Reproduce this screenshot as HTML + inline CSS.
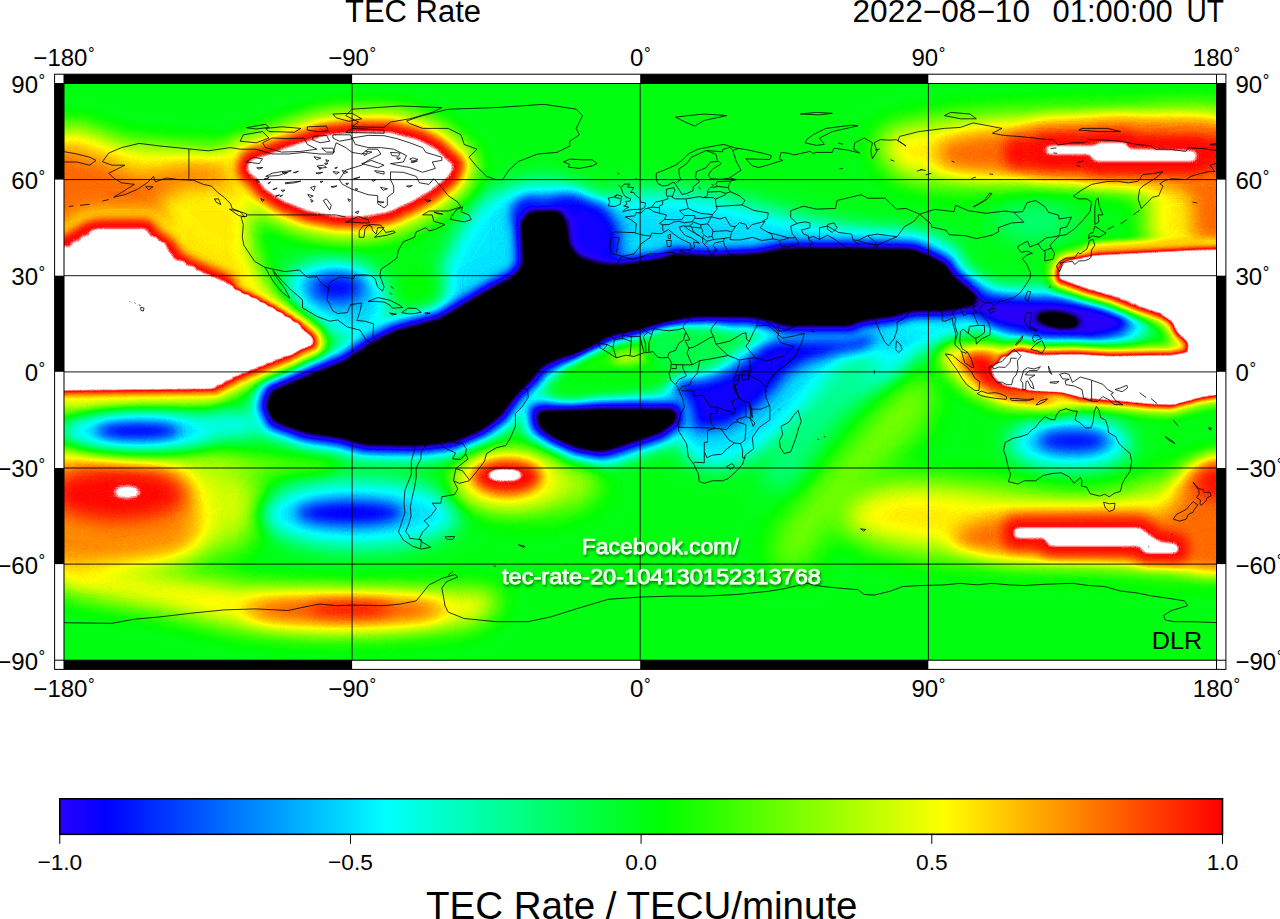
<!DOCTYPE html>
<html lang="en"><head><meta charset="utf-8"><title>TEC Rate</title>
<style>html,body{margin:0;padding:0;background:#fff}svg{display:block}text{font-family:"Liberation Sans",Arial,Helvetica,sans-serif;fill:#000}</style></head><body>
<svg width="1280" height="919" viewBox="0 0 1280 919">
<defs>
<filter id="b2_0" filterUnits="userSpaceOnUse" x="0" y="20" width="1280" height="700" color-interpolation-filters="sRGB"><feGaussianBlur stdDeviation="2"/></filter>
<filter id="b2_5" filterUnits="userSpaceOnUse" x="0" y="20" width="1280" height="700" color-interpolation-filters="sRGB"><feGaussianBlur stdDeviation="2.5"/></filter>
<filter id="b2_6" filterUnits="userSpaceOnUse" x="0" y="20" width="1280" height="700" color-interpolation-filters="sRGB"><feGaussianBlur stdDeviation="2.6"/></filter>
<filter id="b3" filterUnits="userSpaceOnUse" x="0" y="20" width="1280" height="700" color-interpolation-filters="sRGB"><feGaussianBlur stdDeviation="3"/></filter>
<filter id="b3_5" filterUnits="userSpaceOnUse" x="0" y="20" width="1280" height="700" color-interpolation-filters="sRGB"><feGaussianBlur stdDeviation="3.5"/></filter>
<filter id="b4" filterUnits="userSpaceOnUse" x="0" y="20" width="1280" height="700" color-interpolation-filters="sRGB"><feGaussianBlur stdDeviation="4"/></filter>
<filter id="b4_5" filterUnits="userSpaceOnUse" x="0" y="20" width="1280" height="700" color-interpolation-filters="sRGB"><feGaussianBlur stdDeviation="4.5"/></filter>
<filter id="b5" filterUnits="userSpaceOnUse" x="0" y="20" width="1280" height="700" color-interpolation-filters="sRGB"><feGaussianBlur stdDeviation="5"/></filter>
<filter id="b6" filterUnits="userSpaceOnUse" x="0" y="20" width="1280" height="700" color-interpolation-filters="sRGB"><feGaussianBlur stdDeviation="6"/></filter>
<filter id="b7" filterUnits="userSpaceOnUse" x="0" y="20" width="1280" height="700" color-interpolation-filters="sRGB"><feGaussianBlur stdDeviation="7"/></filter>
<filter id="b8" filterUnits="userSpaceOnUse" x="0" y="20" width="1280" height="700" color-interpolation-filters="sRGB"><feGaussianBlur stdDeviation="8"/></filter>
<filter id="b9" filterUnits="userSpaceOnUse" x="0" y="20" width="1280" height="700" color-interpolation-filters="sRGB"><feGaussianBlur stdDeviation="9"/></filter>
<filter id="b10" filterUnits="userSpaceOnUse" x="0" y="20" width="1280" height="700" color-interpolation-filters="sRGB"><feGaussianBlur stdDeviation="10"/></filter>
<filter id="b11" filterUnits="userSpaceOnUse" x="0" y="20" width="1280" height="700" color-interpolation-filters="sRGB"><feGaussianBlur stdDeviation="11"/></filter>
<filter id="b12" filterUnits="userSpaceOnUse" x="0" y="20" width="1280" height="700" color-interpolation-filters="sRGB"><feGaussianBlur stdDeviation="12"/></filter>
<filter id="b13" filterUnits="userSpaceOnUse" x="0" y="20" width="1280" height="700" color-interpolation-filters="sRGB"><feGaussianBlur stdDeviation="13"/></filter>
<filter id="b14" filterUnits="userSpaceOnUse" x="0" y="20" width="1280" height="700" color-interpolation-filters="sRGB"><feGaussianBlur stdDeviation="14"/></filter>
<filter id="b15" filterUnits="userSpaceOnUse" x="0" y="20" width="1280" height="700" color-interpolation-filters="sRGB"><feGaussianBlur stdDeviation="15"/></filter>
<filter id="b16" filterUnits="userSpaceOnUse" x="0" y="20" width="1280" height="700" color-interpolation-filters="sRGB"><feGaussianBlur stdDeviation="16"/></filter>
<filter id="cm" x="0" y="0" width="100%" height="100%" filterUnits="objectBoundingBox" color-interpolation-filters="sRGB"><feComponentTransfer><feFuncR type="table" tableValues="0.000 0.000 0.000 0.000 0.000 0.000 0.000 0.000 0.000 0.000 0.000 0.000 0.000 0.000 0.000 0.000 0.000 0.000 0.000 0.000 0.000 0.000 0.000 0.000 0.000 0.000 0.000 0.000 0.000 0.000 0.000 0.000 0.000 0.000 0.000 0.000 0.000 0.000 0.000 0.000 0.000 0.000 0.000 0.000 0.000 0.000 0.000 0.000 0.000 0.000 0.000 0.000 0.000 0.000 0.000 0.000 0.000 0.000 0.007 0.020 0.033 0.047 0.060 0.073 0.087 0.100 0.113 0.127 0.140 0.153 0.167 0.125 0.083 0.042 0.000 0.000 0.000 0.000 0.000 0.000 0.000 0.000 0.000 0.000 0.000 0.000 0.000 0.000 0.000 0.000 0.000 0.000 0.000 0.000 0.000 0.000 0.000 0.000 0.000 0.000 0.000 0.000 0.000 0.000 0.000 0.000 0.000 0.000 0.000 0.000 0.000 0.000 0.000 0.000 0.000 0.000 0.000 0.000 0.000 0.000 0.000 0.000 0.000 0.042 0.083 0.125 0.167 0.208 0.250 0.292 0.333 0.375 0.417 0.458 0.500 0.542 0.583 0.625 0.667 0.708 0.750 0.792 0.833 0.875 0.917 0.958 1.000 1.000 1.000 1.000 1.000 1.000 1.000 1.000 1.000 1.000 1.000 1.000 1.000 1.000 1.000 1.000 1.000 1.000 1.000 1.000 1.000 1.000 1.000 1.000 1.000 1.000 1.000 1.000 1.000 1.000 1.000 1.000 1.000 1.000 1.000 1.000 1.000 1.000 1.000 1.000 1.000 1.000 1.000 1.000 1.000 1.000 1.000 1.000 1.000 1.000 1.000 1.000 1.000 1.000 1.000 1.000 1.000 1.000 1.000 1.000 1.000 1.000 1.000 1.000 1.000 1.000 1.000 1.000 1.000 1.000 1.000 1.000 1.000 1.000 1.000 1.000 1.000 1.000 1.000 1.000 1.000 1.000 1.000 1.000 1.000 1.000 1.000 1.000 1.000 1.000 1.000 1.000 1.000 1.000 1.000"/><feFuncG type="table" tableValues="0.000 0.000 0.000 0.000 0.000 0.000 0.000 0.000 0.000 0.000 0.000 0.000 0.000 0.000 0.000 0.000 0.000 0.000 0.000 0.000 0.000 0.000 0.000 0.000 0.000 0.000 0.000 0.000 0.000 0.000 0.000 0.000 0.000 0.000 0.000 0.000 0.000 0.000 0.000 0.000 0.000 0.000 0.000 0.000 0.000 0.000 0.000 0.000 0.000 0.000 0.000 0.000 0.000 0.000 0.000 0.000 0.000 0.000 0.000 0.000 0.000 0.000 0.000 0.000 0.000 0.000 0.000 0.000 0.000 0.000 0.000 0.000 0.000 0.000 0.000 0.042 0.083 0.125 0.167 0.208 0.250 0.292 0.333 0.375 0.417 0.458 0.500 0.542 0.583 0.625 0.667 0.708 0.750 0.792 0.833 0.875 0.917 0.958 1.000 1.000 1.000 1.000 1.000 1.000 1.000 1.000 1.000 1.000 1.000 1.000 1.000 1.000 1.000 1.000 1.000 1.000 1.000 1.000 1.000 1.000 1.000 1.000 1.000 1.000 1.000 1.000 1.000 1.000 1.000 1.000 1.000 1.000 1.000 1.000 1.000 1.000 1.000 1.000 1.000 1.000 1.000 1.000 1.000 1.000 1.000 1.000 1.000 0.958 0.917 0.875 0.833 0.792 0.750 0.708 0.667 0.625 0.583 0.542 0.500 0.458 0.417 0.375 0.333 0.292 0.250 0.208 0.167 0.125 0.083 0.042 0.000 0.167 0.333 0.500 0.667 0.833 1.000 1.000 1.000 1.000 1.000 1.000 1.000 1.000 1.000 1.000 1.000 1.000 1.000 1.000 1.000 1.000 1.000 1.000 1.000 1.000 1.000 1.000 1.000 1.000 1.000 1.000 1.000 1.000 1.000 1.000 1.000 1.000 1.000 1.000 1.000 1.000 1.000 1.000 1.000 1.000 1.000 1.000 1.000 1.000 1.000 1.000 1.000 1.000 1.000 1.000 1.000 1.000 1.000 1.000 1.000 1.000 1.000 1.000 1.000 1.000 1.000 1.000 1.000 1.000 1.000"/><feFuncB type="table" tableValues="0.000 0.000 0.000 0.000 0.000 0.000 0.000 0.000 0.000 0.000 0.000 0.000 0.000 0.000 0.000 0.000 0.000 0.000 0.000 0.000 0.000 0.000 0.000 0.000 0.000 0.000 0.000 0.000 0.000 0.000 0.000 0.000 0.000 0.000 0.000 0.000 0.000 0.000 0.000 0.000 0.000 0.000 0.000 0.000 0.000 0.000 0.000 0.000 0.000 0.000 0.000 0.000 0.000 0.000 0.000 0.000 0.000 0.000 0.040 0.120 0.200 0.280 0.360 0.440 0.520 0.600 0.680 0.760 0.840 0.920 1.000 1.000 1.000 1.000 1.000 1.000 1.000 1.000 1.000 1.000 1.000 1.000 1.000 1.000 1.000 1.000 1.000 1.000 1.000 1.000 1.000 1.000 1.000 1.000 1.000 1.000 1.000 1.000 1.000 0.958 0.917 0.875 0.833 0.792 0.750 0.708 0.667 0.625 0.583 0.542 0.500 0.458 0.417 0.375 0.333 0.292 0.250 0.208 0.167 0.125 0.083 0.042 0.000 0.000 0.000 0.000 0.000 0.000 0.000 0.000 0.000 0.000 0.000 0.000 0.000 0.000 0.000 0.000 0.000 0.000 0.000 0.000 0.000 0.000 0.000 0.000 0.000 0.000 0.000 0.000 0.000 0.000 0.000 0.000 0.000 0.000 0.000 0.000 0.000 0.000 0.000 0.000 0.000 0.000 0.000 0.000 0.000 0.000 0.000 0.000 0.000 0.167 0.333 0.500 0.667 0.833 1.000 1.000 1.000 1.000 1.000 1.000 1.000 1.000 1.000 1.000 1.000 1.000 1.000 1.000 1.000 1.000 1.000 1.000 1.000 1.000 1.000 1.000 1.000 1.000 1.000 1.000 1.000 1.000 1.000 1.000 1.000 1.000 1.000 1.000 1.000 1.000 1.000 1.000 1.000 1.000 1.000 1.000 1.000 1.000 1.000 1.000 1.000 1.000 1.000 1.000 1.000 1.000 1.000 1.000 1.000 1.000 1.000 1.000 1.000 1.000 1.000 1.000 1.000 1.000 1.000"/></feComponentTransfer></filter>
<clipPath id="mapclip"><rect x="64" y="83.5" width="1152.5" height="576.7"/></clipPath>
<linearGradient id="cbg" x1="0" x2="1" y1="0" y2="0"><stop offset="0.000" stop-color="#2a00ff"/><stop offset="0.040" stop-color="#0000ff"/><stop offset="0.080" stop-color="#002bff"/><stop offset="0.120" stop-color="#0055ff"/><stop offset="0.160" stop-color="#0080ff"/><stop offset="0.200" stop-color="#00aaff"/><stop offset="0.240" stop-color="#00d4ff"/><stop offset="0.280" stop-color="#00ffff"/><stop offset="0.320" stop-color="#00ffd4"/><stop offset="0.360" stop-color="#00ffaa"/><stop offset="0.400" stop-color="#00ff80"/><stop offset="0.440" stop-color="#00ff55"/><stop offset="0.480" stop-color="#00ff2a"/><stop offset="0.520" stop-color="#00ff00"/><stop offset="0.560" stop-color="#2aff00"/><stop offset="0.600" stop-color="#55ff00"/><stop offset="0.640" stop-color="#80ff00"/><stop offset="0.680" stop-color="#aaff00"/><stop offset="0.720" stop-color="#d4ff00"/><stop offset="0.760" stop-color="#ffff00"/><stop offset="0.800" stop-color="#ffd500"/><stop offset="0.840" stop-color="#ffaa00"/><stop offset="0.880" stop-color="#ff8000"/><stop offset="0.920" stop-color="#ff5500"/><stop offset="0.960" stop-color="#ff2a00"/><stop offset="1.000" stop-color="#ff0000"/></linearGradient>
<filter id="ts" x="-10%" y="-30%" width="120%" height="170%"><feGaussianBlur in="SourceAlpha" stdDeviation="1.6"/><feOffset dx="0.5" dy="1.5"/><feComponentTransfer><feFuncA type="linear" slope="0.55"/></feComponentTransfer><feMerge><feMergeNode/><feMergeNode in="SourceGraphic"/></feMerge></filter>
</defs>
<rect width="1280" height="919" fill="#fff"/>
<g clip-path="url(#mapclip)"><g filter="url(#cm)">
<rect x="24" y="43.5" width="1232.5" height="656.7" fill="#808080"/>
<path d="M840.0 500.0C847.3 493.6 878.7 483.3 900.0 482.0C921.3 480.7 973.3 487.9 1000.0 490.0C1026.7 492.1 1069.3 500.7 1100.0 498.0C1130.7 495.3 1212.7 460.9 1230.0 470.0C1247.3 479.1 1247.3 553.6 1230.0 566.0C1212.7 578.4 1130.7 563.8 1100.0 563.0C1069.3 562.2 1026.7 562.0 1000.0 560.0C973.3 558.0 920.7 552.0 900.0 548.0C879.3 544.0 853.0 536.4 845.0 530.0C837.0 523.6 832.7 506.4 840.0 500.0Z" fill="#9d9d9d" filter="url(#b15)"/>
<path d="M935.0 385.0C932.3 378.7 916.3 370.7 905.0 378.0C893.7 385.3 865.3 422.4 850.0 440.0C834.7 457.6 800.7 494.0 790.0 510.0C779.3 526.0 768.7 552.0 770.0 560.0C771.3 568.0 789.3 578.0 800.0 570.0C810.7 562.0 833.3 519.3 850.0 500.0C866.7 480.7 913.7 440.3 925.0 425.0C936.3 409.7 937.7 391.3 935.0 385.0Z" fill="#8e8e8e" filter="url(#b15)"/>
<path d="M60.0 560.0C72.0 557.6 124.7 568.7 150.0 572.0C175.3 575.3 223.3 582.6 250.0 585.0C276.7 587.4 323.3 589.3 350.0 590.0C376.7 590.7 430.0 589.3 450.0 590.0C470.0 590.7 497.3 590.3 500.0 595.0C502.7 599.7 490.0 619.7 470.0 625.0C450.0 630.3 379.3 634.3 350.0 635.0C320.7 635.7 275.3 633.3 250.0 630.0C224.7 626.7 185.3 615.3 160.0 610.0C134.7 604.7 73.3 596.7 60.0 590.0C46.7 583.3 48.0 562.4 60.0 560.0Z" fill="#9d9d9d" filter="url(#b12)"/>
<path d="M880.0 135.0C888.0 127.4 930.7 121.1 960.0 118.0C989.3 114.9 1062.7 112.0 1100.0 112.0C1137.3 112.0 1221.3 98.0 1240.0 118.0C1258.7 138.0 1250.0 243.1 1240.0 262.0C1230.0 280.9 1177.7 264.0 1165.0 260.0C1152.3 256.0 1147.3 240.0 1145.0 232.0C1142.7 224.0 1152.7 206.3 1148.0 200.0C1143.3 193.7 1132.4 187.0 1110.0 185.0C1087.6 183.0 1008.0 186.3 980.0 185.0C952.0 183.7 913.3 181.7 900.0 175.0C886.7 168.3 872.0 142.6 880.0 135.0Z" fill="#9d9d9d" filter="url(#b13)"/>
<path d="M945.0 142.0C957.0 136.7 1000.7 129.9 1040.0 128.0C1079.3 126.1 1213.3 111.7 1240.0 128.0C1266.7 144.3 1245.9 234.1 1240.0 250.0C1234.1 265.9 1202.7 253.7 1196.0 247.0C1189.3 240.3 1194.8 209.2 1190.0 200.0C1185.2 190.8 1178.7 181.2 1160.0 178.0C1141.3 174.8 1078.0 177.3 1050.0 176.0C1022.0 174.7 964.0 172.5 950.0 168.0C936.0 163.5 933.0 147.3 945.0 142.0Z" fill="#aaaaaa" filter="url(#b9)"/>
<path d="M50.0 140.0C60.7 105.3 110.0 141.9 130.0 143.0C150.0 144.1 184.0 147.1 200.0 148.0C216.0 148.9 242.3 144.4 250.0 150.0C257.7 155.6 257.5 182.0 258.0 190.0C258.5 198.0 254.8 202.0 254.0 210.0C253.2 218.0 249.3 239.1 252.0 250.0C254.7 260.9 265.5 280.3 274.0 292.0C282.5 303.7 308.8 330.3 316.0 338.0C323.2 345.7 330.1 346.3 328.0 350.0C325.9 353.7 313.7 360.1 300.0 366.0C286.3 371.9 236.3 389.2 225.0 394.0C213.7 398.8 238.3 400.8 215.0 402.0C191.7 403.2 72.0 437.9 50.0 403.0C28.0 368.1 39.3 174.7 50.0 140.0Z" fill="#9d9d9d" filter="url(#b11)"/>
<path d="M40.0 150.0C48.0 139.1 86.7 154.7 100.0 158.0C113.3 161.3 128.0 173.9 140.0 175.0C152.0 176.1 176.0 166.7 190.0 166.0C204.0 165.3 238.3 167.5 245.0 170.0C251.7 172.5 247.3 182.9 240.0 185.0C232.7 187.1 200.7 184.0 190.0 186.0C179.3 188.0 164.0 194.1 160.0 200.0C156.0 205.9 176.0 224.7 160.0 230.0C144.0 235.3 56.0 250.7 40.0 240.0C24.0 229.3 32.0 160.9 40.0 150.0Z" fill="#aaaaaa" filter="url(#b10)"/>
<path d="M60.0 452.0C72.0 450.4 124.7 455.2 150.0 456.0C175.3 456.8 226.0 457.2 250.0 458.0C274.0 458.8 319.3 459.7 330.0 462.0C340.7 464.3 340.7 473.7 330.0 475.0C319.3 476.3 274.0 472.7 250.0 472.0C226.0 471.3 175.3 470.5 150.0 470.0C124.7 469.5 72.0 470.4 60.0 468.0C48.0 465.6 48.0 453.6 60.0 452.0Z" fill="#8f8f8f" filter="url(#b9)"/>
<ellipse cx="140" cy="505" rx="130" ry="60" fill="#979797" filter="url(#b16)"/>
<path d="M40.0 462.0C50.7 448.3 102.0 460.9 120.0 462.0C138.0 463.1 164.3 464.9 175.0 470.0C185.7 475.1 197.3 490.0 200.0 500.0C202.7 510.0 201.7 536.7 195.0 545.0C188.3 553.3 170.7 559.3 150.0 562.0C129.3 564.7 54.7 578.3 40.0 565.0C25.3 551.7 29.3 475.7 40.0 462.0Z" fill="#a7a7a7" filter="url(#b12)"/>
<path d="M1240.0 462.0C1234.7 448.3 1208.0 459.6 1200.0 462.0C1192.0 464.4 1183.7 472.3 1180.0 480.0C1176.3 487.7 1172.0 509.3 1172.0 520.0C1172.0 530.7 1170.9 554.0 1180.0 560.0C1189.1 566.0 1232.0 578.1 1240.0 565.0C1248.0 551.9 1245.3 475.7 1240.0 462.0Z" fill="#aaaaaa" filter="url(#b10)"/>
<ellipse cx="118" cy="494" rx="68" ry="27" fill="#b4b4b4" filter="url(#b10)"/>
<ellipse cx="1218" cy="484" rx="22" ry="20" fill="#b4b4b4" filter="url(#b9)"/>
<path d="M600.0 205.0C606.7 195.7 634.0 192.9 650.0 192.0C666.0 191.1 701.3 194.9 720.0 198.0C738.7 201.1 771.3 210.7 790.0 215.0C808.7 219.3 841.3 226.9 860.0 230.0C878.7 233.1 916.7 233.7 930.0 238.0C943.3 242.3 964.0 258.8 960.0 262.0C956.0 265.2 924.0 262.0 900.0 262.0C876.0 262.0 820.0 262.0 780.0 262.0C740.0 262.0 624.0 269.6 600.0 262.0C576.0 254.4 593.3 214.3 600.0 205.0Z" fill="#656565" filter="url(#b11)"/>
<path d="M470.0 215.0C476.0 206.3 484.0 199.0 490.0 195.0C496.0 191.0 507.7 187.0 515.0 185.0C522.3 183.0 536.3 179.6 545.0 180.0C553.7 180.4 572.7 184.7 580.0 188.0C587.3 191.3 596.0 198.1 600.0 205.0C604.0 211.9 611.3 232.4 610.0 240.0C608.7 247.6 602.0 255.3 590.0 262.0C578.0 268.7 536.0 283.6 520.0 290.0C504.0 296.4 480.7 308.0 470.0 310.0C459.3 312.0 443.3 311.7 440.0 305.0C436.7 298.3 441.0 272.0 445.0 260.0C449.0 248.0 464.0 223.7 470.0 215.0Z" fill="#666666" filter="url(#b10)"/>
<path d="M285.0 275.0C288.7 270.2 310.0 263.3 320.0 262.0C330.0 260.7 351.3 261.9 360.0 265.0C368.7 268.1 381.0 279.0 385.0 285.0C389.0 291.0 391.3 303.3 390.0 310.0C388.7 316.7 381.0 331.0 375.0 335.0C369.0 339.0 353.0 342.0 345.0 340.0C337.0 338.0 322.1 325.6 315.0 320.0C307.9 314.4 296.0 304.0 292.0 298.0C288.0 292.0 281.3 279.8 285.0 275.0Z" fill="#656565" filter="url(#b10)"/>
<path d="M665.0 385.0C668.7 377.3 690.0 376.7 700.0 372.0C710.0 367.3 728.0 355.9 740.0 350.0C752.0 344.1 774.0 331.7 790.0 328.0C806.0 324.3 841.3 323.3 860.0 322.0C878.7 320.7 914.7 319.3 930.0 318.0C945.3 316.7 971.0 309.3 975.0 312.0C979.0 314.7 967.3 332.7 960.0 338.0C952.7 343.3 929.3 346.7 920.0 352.0C910.7 357.3 900.7 371.9 890.0 378.0C879.3 384.1 852.0 392.1 840.0 398.0C828.0 403.9 810.7 414.8 800.0 422.0C789.3 429.2 770.7 445.9 760.0 452.0C749.3 458.1 729.3 466.9 720.0 468.0C710.7 469.1 696.4 465.1 690.0 460.0C683.6 454.9 675.3 440.0 672.0 430.0C668.7 420.0 661.3 392.7 665.0 385.0Z" fill="#656565" filter="url(#b10)"/>
<path d="M850.0 350.0C840.0 354.7 821.3 384.0 810.0 400.0C798.7 416.0 768.3 458.0 765.0 470.0C761.7 482.0 775.7 496.0 785.0 490.0C794.3 484.0 821.7 441.7 835.0 425.0C848.3 408.3 883.0 375.0 885.0 365.0C887.0 355.0 860.0 345.3 850.0 350.0Z" fill="#747474" filter="url(#b12)"/>
<path d="M678.0 385.0C684.7 371.7 686.0 385.7 705.0 380.0C724.0 374.3 715.0 379.7 735.0 368.0C755.0 356.3 743.3 357.7 765.0 345.0C786.7 332.3 768.3 335.7 800.0 330.0C831.7 324.3 837.3 323.0 860.0 328.0C882.7 333.0 878.0 336.0 868.0 345.0C858.0 354.0 854.3 347.3 830.0 355.0C805.7 362.7 814.3 355.7 795.0 368.0C775.7 380.3 788.7 376.3 772.0 392.0C755.3 407.7 764.0 403.0 745.0 415.0C726.0 427.0 735.0 426.3 715.0 428.0C695.0 429.7 697.3 434.3 685.0 420.0C672.7 405.7 671.3 398.3 678.0 385.0Z" fill="#4d4d4d" filter="url(#b7)"/>
<path d="M267.0 407.0L272.0 392.0L315.0 374.0L345.0 362.0L370.0 345.0L395.0 332.0L440.0 320.0L465.0 305.0L490.0 290.0L515.0 277.0L524.0 265.0L523.0 245.0L522.0 222.0L530.0 212.0L560.0 212.0L566.0 225.0L568.0 245.0L578.0 258.0L600.0 265.0L620.0 266.0L660.0 260.0L675.0 255.0L710.0 257.0L755.0 255.0L780.0 250.0L800.0 249.0L850.0 249.0L912.0 250.0L925.0 255.0L945.0 265.0L952.0 277.0L970.0 290.0L978.0 297.0L972.0 305.0L945.0 310.0L912.0 310.0L895.0 315.0L860.0 320.0L850.0 325.0L820.0 325.0L787.0 325.0L770.0 320.0L750.0 316.0L700.0 316.0L685.0 317.0L665.0 322.0L635.0 330.0L610.0 335.0L595.0 344.0L580.0 352.0L560.0 357.0L542.0 365.0L530.0 380.0L515.0 395.0L500.0 415.0L480.0 430.0L455.0 441.0L415.0 445.0L365.0 444.0L340.0 437.0L305.0 432.0L272.0 420.0Z" fill="#656565" stroke="#656565" stroke-width="32" stroke-linejoin="round" filter="url(#b7)"/>
<path d="M267.0 407.0L272.0 392.0L315.0 374.0L345.0 362.0L370.0 345.0L395.0 332.0L440.0 320.0L465.0 305.0L490.0 290.0L515.0 277.0L524.0 265.0L523.0 245.0L522.0 222.0L530.0 212.0L560.0 212.0L566.0 225.0L568.0 245.0L578.0 258.0L600.0 265.0L620.0 266.0L660.0 260.0L675.0 255.0L710.0 257.0L755.0 255.0L780.0 250.0L800.0 249.0L850.0 249.0L912.0 250.0L925.0 255.0L945.0 265.0L952.0 277.0L970.0 290.0L978.0 297.0L972.0 305.0L945.0 310.0L912.0 310.0L895.0 315.0L860.0 320.0L850.0 325.0L820.0 325.0L787.0 325.0L770.0 320.0L750.0 316.0L700.0 316.0L685.0 317.0L665.0 322.0L635.0 330.0L610.0 335.0L595.0 344.0L580.0 352.0L560.0 357.0L542.0 365.0L530.0 380.0L515.0 395.0L500.0 415.0L480.0 430.0L455.0 441.0L415.0 445.0L365.0 444.0L340.0 437.0L305.0 432.0L272.0 420.0Z" fill="#4e4e4e" stroke="#4e4e4e" stroke-width="16" stroke-linejoin="round" filter="url(#b4)"/>
<path d="M537.0 412.0L600.0 410.0L675.0 410.0L676.0 420.0L660.0 432.0L630.0 442.0L600.0 452.0L575.0 452.0L555.0 440.0L540.0 427.0Z" fill="#656565" stroke="#656565" stroke-width="32" stroke-linejoin="round" filter="url(#b7)"/>
<path d="M537.0 412.0L600.0 410.0L675.0 410.0L676.0 420.0L660.0 432.0L630.0 442.0L600.0 452.0L575.0 452.0L555.0 440.0L540.0 427.0Z" fill="#4e4e4e" stroke="#4e4e4e" stroke-width="16" stroke-linejoin="round" filter="url(#b4)"/>
<path d="M960.0 290.0C966.0 285.1 1004.0 288.0 1020.0 288.0C1036.0 288.0 1064.7 288.0 1080.0 290.0C1095.3 292.0 1125.7 298.7 1135.0 303.0C1144.3 307.3 1150.7 316.4 1150.0 322.0C1149.3 327.6 1139.3 341.0 1130.0 345.0C1120.7 349.0 1094.7 352.0 1080.0 352.0C1065.3 352.0 1034.0 348.6 1020.0 345.0C1006.0 341.4 983.0 332.3 975.0 325.0C967.0 317.7 954.0 294.9 960.0 290.0Z" fill="#626262" filter="url(#b9)"/>
<path d="M950.0 296.0C963.3 289.3 978.3 296.0 1020.0 298.0C1061.7 300.0 1043.3 297.3 1075.0 302.0C1106.7 306.7 1097.7 305.0 1115.0 312.0C1132.3 319.0 1128.7 315.3 1127.0 323.0C1125.3 330.7 1129.0 330.0 1110.0 335.0C1091.0 340.0 1100.0 339.0 1070.0 338.0C1040.0 337.0 1050.0 338.7 1020.0 332.0C990.0 325.3 1003.3 330.0 980.0 318.0C956.7 306.0 936.7 302.7 950.0 296.0Z" fill="#4a4a4a" filter="url(#b6)"/>
<path d="M560.0 203.0C569.3 188.0 572.7 196.0 590.0 200.0C607.3 204.0 602.0 200.0 612.0 215.0C622.0 230.0 620.0 228.7 620.0 245.0C620.0 261.3 625.3 258.3 612.0 264.0C598.7 269.7 596.7 268.3 580.0 262.0C563.3 255.7 568.7 264.7 562.0 245.0C555.3 225.3 550.7 218.0 560.0 203.0Z" fill="#4d4d4d" filter="url(#b7)"/>
<path d="M512.0 215.0C512.7 207.7 509.0 206.0 520.0 200.0C531.0 194.0 528.3 197.0 545.0 197.0C561.7 197.0 560.0 194.0 570.0 200.0C580.0 206.0 578.3 212.3 575.0 215.0C571.7 217.7 575.0 210.3 560.0 208.0C545.0 205.7 544.0 203.3 530.0 208.0C516.0 212.7 524.0 219.7 518.0 222.0C512.0 224.3 511.3 222.3 512.0 215.0Z" fill="#505050" filter="url(#b5)"/>
<ellipse cx="420" cy="287" rx="24" ry="14" fill="#828282" filter="url(#b9)"/>
<path d="M575.0 364.0C586.7 354.7 578.3 358.3 600.0 350.0C621.7 341.7 613.3 345.0 640.0 339.0C666.7 333.0 660.7 332.7 680.0 332.0C699.3 331.3 694.7 330.3 698.0 337.0C701.3 343.7 699.3 341.7 690.0 352.0C680.7 362.3 686.7 359.3 670.0 368.0C653.3 376.7 663.3 373.3 640.0 378.0C616.7 382.7 625.0 382.0 600.0 382.0C575.0 382.0 573.3 384.0 565.0 378.0C556.7 372.0 563.3 373.3 575.0 364.0Z" fill="#858585" filter="url(#b6)"/>
<ellipse cx="632" cy="361" rx="20" ry="8" fill="#9a9a9a" filter="url(#b6)"/>
<path d="M553.0 387.0C558.7 378.3 557.7 380.0 580.0 373.0C602.3 366.0 593.3 369.3 620.0 366.0C646.7 362.7 644.0 359.0 660.0 363.0C676.0 367.0 674.7 369.7 668.0 378.0C661.3 386.3 662.7 382.3 640.0 388.0C617.3 393.7 625.7 391.3 600.0 395.0C574.3 398.7 578.7 401.7 563.0 399.0C547.3 396.3 547.3 395.7 553.0 387.0Z" fill="#808080" filter="url(#b6)"/>
<path d="M652.0 336.0C663.3 325.3 666.7 331.0 690.0 330.0C713.3 329.0 712.0 324.3 722.0 333.0C732.0 341.7 730.7 345.0 720.0 356.0C709.3 367.0 711.3 364.0 690.0 366.0C668.7 368.0 668.7 372.0 656.0 362.0C643.3 352.0 640.7 346.7 652.0 336.0Z" fill="#7a7a7a" filter="url(#b7)"/>
<path d="M267.0 407.0L272.0 392.0L315.0 374.0L345.0 362.0L370.0 345.0L395.0 332.0L440.0 320.0L465.0 305.0L490.0 290.0L515.0 277.0L524.0 265.0L523.0 245.0L522.0 222.0L530.0 212.0L560.0 212.0L566.0 225.0L568.0 245.0L578.0 258.0L600.0 265.0L620.0 266.0L660.0 260.0L675.0 255.0L710.0 257.0L755.0 255.0L780.0 250.0L800.0 249.0L850.0 249.0L912.0 250.0L925.0 255.0L945.0 265.0L952.0 277.0L970.0 290.0L978.0 297.0L972.0 305.0L945.0 310.0L912.0 310.0L895.0 315.0L860.0 320.0L850.0 325.0L820.0 325.0L787.0 325.0L770.0 320.0L750.0 316.0L700.0 316.0L685.0 317.0L665.0 322.0L635.0 330.0L610.0 335.0L595.0 344.0L580.0 352.0L560.0 357.0L542.0 365.0L530.0 380.0L515.0 395.0L500.0 415.0L480.0 430.0L455.0 441.0L415.0 445.0L365.0 444.0L340.0 437.0L305.0 432.0L272.0 420.0Z" fill="#303030" filter="url(#b4_5)"/>
<path d="M537.0 412.0L600.0 410.0L675.0 410.0L676.0 420.0L660.0 432.0L630.0 442.0L600.0 452.0L575.0 452.0L555.0 440.0L540.0 427.0Z" fill="#303030" filter="url(#b4_5)"/>
<ellipse cx="1058" cy="320" rx="21" ry="6.5" fill="#303030" transform="rotate(8 1058 320)" filter="url(#b3_5)"/>
<ellipse cx="337" cy="288" rx="28" ry="14" fill="#4d4d4d" filter="url(#b9)"/>
<ellipse cx="140" cy="431" rx="78" ry="22" fill="#656565" filter="url(#b9)"/>
<ellipse cx="232" cy="425" rx="32" ry="13" fill="#686868" filter="url(#b9)"/>
<ellipse cx="138" cy="431" rx="42" ry="8" fill="#4d4d4d" filter="url(#b6)"/>
<ellipse cx="360" cy="514" rx="100" ry="34" fill="#656565" filter="url(#b11)"/>
<ellipse cx="350" cy="513" rx="54" ry="12" fill="#4d4d4d" filter="url(#b7)"/>
<ellipse cx="1070" cy="443" rx="62" ry="26" fill="#656565" filter="url(#b10)"/>
<ellipse cx="1073" cy="441" rx="36" ry="11" fill="#4f4f4f" filter="url(#b7)"/>
<path d="M250.0 165.0C254.0 156.7 252.0 162.7 272.0 155.0C292.0 147.3 289.0 148.3 310.0 142.0C331.0 135.7 311.7 138.7 335.0 136.0C358.3 133.3 358.3 133.7 380.0 134.0C401.7 134.3 385.0 133.3 400.0 137.0C415.0 140.7 410.0 137.3 425.0 145.0C440.0 152.7 436.7 151.7 445.0 160.0C453.3 168.3 453.3 161.7 450.0 170.0C446.7 178.3 445.0 176.7 435.0 185.0C425.0 193.3 431.7 188.3 420.0 195.0C408.3 201.7 413.3 199.3 400.0 205.0C386.7 210.7 397.7 208.7 380.0 212.0C362.3 215.3 366.3 215.0 347.0 215.0C327.7 215.0 338.7 215.3 322.0 212.0C305.3 208.7 313.7 211.7 297.0 205.0C280.3 198.3 284.3 200.3 272.0 192.0C259.7 183.7 267.3 189.0 260.0 180.0C252.7 171.0 246.0 173.3 250.0 165.0Z" fill="#9d9d9d" stroke="#9d9d9d" stroke-width="50" stroke-linejoin="round" filter="url(#b9)"/>
<path d="M250.0 165.0C254.0 156.7 252.0 162.7 272.0 155.0C292.0 147.3 289.0 148.3 310.0 142.0C331.0 135.7 311.7 138.7 335.0 136.0C358.3 133.3 358.3 133.7 380.0 134.0C401.7 134.3 385.0 133.3 400.0 137.0C415.0 140.7 410.0 137.3 425.0 145.0C440.0 152.7 436.7 151.7 445.0 160.0C453.3 168.3 453.3 161.7 450.0 170.0C446.7 178.3 445.0 176.7 435.0 185.0C425.0 193.3 431.7 188.3 420.0 195.0C408.3 201.7 413.3 199.3 400.0 205.0C386.7 210.7 397.7 208.7 380.0 212.0C362.3 215.3 366.3 215.0 347.0 215.0C327.7 215.0 338.7 215.3 322.0 212.0C305.3 208.7 313.7 211.7 297.0 205.0C280.3 198.3 284.3 200.3 272.0 192.0C259.7 183.7 267.3 189.0 260.0 180.0C252.7 171.0 246.0 173.3 250.0 165.0Z" fill="#b5b5b5" stroke="#b5b5b5" stroke-width="24" stroke-linejoin="round" filter="url(#b5)"/>
<path d="M250.0 165.0C254.0 156.7 252.0 162.7 272.0 155.0C292.0 147.3 289.0 148.3 310.0 142.0C331.0 135.7 311.7 138.7 335.0 136.0C358.3 133.3 358.3 133.7 380.0 134.0C401.7 134.3 385.0 133.3 400.0 137.0C415.0 140.7 410.0 137.3 425.0 145.0C440.0 152.7 436.7 151.7 445.0 160.0C453.3 168.3 453.3 161.7 450.0 170.0C446.7 178.3 445.0 176.7 435.0 185.0C425.0 193.3 431.7 188.3 420.0 195.0C408.3 201.7 413.3 199.3 400.0 205.0C386.7 210.7 397.7 208.7 380.0 212.0C362.3 215.3 366.3 215.0 347.0 215.0C327.7 215.0 338.7 215.3 322.0 212.0C305.3 208.7 313.7 211.7 297.0 205.0C280.3 198.3 284.3 200.3 272.0 192.0C259.7 183.7 267.3 189.0 260.0 180.0C252.7 171.0 246.0 173.3 250.0 165.0Z" fill="#c2c2c2" filter="url(#b2_5)"/>
<path d="M40.0 250.0L64.0 248.0L90.0 232.0L100.0 230.0L145.0 230.0L150.0 238.0L165.0 248.0L175.0 262.0L195.0 272.0L225.0 285.0L250.0 298.0L275.0 312.0L300.0 328.0L312.0 338.0L313.0 344.0L300.0 349.0L290.0 355.0L265.0 365.0L240.0 375.0L215.0 388.0L40.0 390.0Z" fill="#9a9a9a" stroke="#9a9a9a" stroke-width="24" stroke-linejoin="round" filter="url(#b5)"/>
<path d="M40.0 250.0L64.0 248.0L90.0 232.0L100.0 230.0L145.0 230.0L150.0 238.0L165.0 248.0L175.0 262.0L195.0 272.0L225.0 285.0L250.0 298.0L275.0 312.0L300.0 328.0L312.0 338.0L313.0 344.0L300.0 349.0L290.0 355.0L265.0 365.0L240.0 375.0L215.0 388.0L40.0 390.0Z" fill="#b5b5b5" stroke="#b5b5b5" stroke-width="10" stroke-linejoin="round" filter="url(#b3)"/>
<path d="M40.0 250.0L64.0 248.0L90.0 232.0L100.0 230.0L145.0 230.0L150.0 238.0L165.0 248.0L175.0 262.0L195.0 272.0L225.0 285.0L215.0 300.0L40.0 300.0Z" fill="#9f9f9f" stroke="#9f9f9f" stroke-width="44" stroke-linejoin="round" filter="url(#b8)"/>
<path d="M40.0 250.0L64.0 248.0L90.0 232.0L100.0 230.0L145.0 230.0L150.0 238.0L165.0 248.0L175.0 262.0L195.0 272.0L225.0 285.0L215.0 300.0L40.0 300.0Z" fill="#b5b5b5" stroke="#b5b5b5" stroke-width="22" stroke-linejoin="round" filter="url(#b4)"/>
<path d="M40.0 250.0L64.0 248.0L72.7 248.0L72.7 242.7L81.3 242.7L81.3 237.3L90.0 237.3L90.0 232.0L100.0 230.0L145.0 230.0L150.0 238.0L157.5 238.0L157.5 243.0L165.0 243.0L165.0 248.0L175.0 262.0L185.0 262.0L185.0 267.0L195.0 267.0L195.0 272.0L202.5 272.0L202.5 275.2L210.0 275.2L210.0 278.5L217.5 278.5L217.5 281.8L225.0 281.8L225.0 285.0L233.3 285.0L233.3 289.3L241.7 289.3L241.7 293.7L250.0 293.7L250.0 298.0L258.3 298.0L258.3 302.7L266.7 302.7L266.7 307.3L275.0 307.3L275.0 312.0L283.3 312.0L283.3 317.3L291.7 317.3L291.7 322.7L300.0 322.7L300.0 328.0L312.0 338.0L313.0 344.0L300.0 349.0L290.0 355.0L281.7 355.0L281.7 358.3L273.3 358.3L273.3 361.7L265.0 361.7L265.0 365.0L256.7 365.0L256.7 368.3L248.3 368.3L248.3 371.7L240.0 371.7L240.0 375.0L231.7 375.0L231.7 379.3L223.3 379.3L223.3 383.7L215.0 383.7L215.0 388.0L40.0 390.0Z" fill="#c2c2c2" filter="url(#b2_0)"/>
<path d="M1047.0 147.0L1095.0 147.0L1098.0 144.0L1125.0 144.0L1128.0 150.0L1195.0 152.0L1195.0 160.0L1095.0 160.0L1090.0 153.0L1047.0 153.0Z" fill="#aaaaaa" stroke="#aaaaaa" stroke-width="48" stroke-linejoin="round" filter="url(#b9)"/>
<path d="M1015.0 148.0L1240.0 147.0L1240.0 160.0L1015.0 158.0Z" fill="#b4b4b4" stroke="#b4b4b4" stroke-width="22" stroke-linejoin="round" filter="url(#b7)"/>
<path d="M1047.0 147.0L1095.0 147.0L1098.0 144.0L1125.0 144.0L1128.0 150.0L1195.0 152.0L1195.0 160.0L1095.0 160.0L1090.0 153.0L1047.0 153.0Z" fill="#b4b4b4" stroke="#b4b4b4" stroke-width="24" stroke-linejoin="round" filter="url(#b6)"/>
<path d="M1047.0 147.0L1095.0 147.0L1098.0 144.0L1125.0 144.0L1128.0 150.0L1195.0 152.0L1195.0 160.0L1095.0 160.0L1090.0 153.0L1047.0 153.0Z" fill="#c2c2c2" filter="url(#b2_6)"/>
<path d="M1095.0 245.0C1108.3 243.0 1181.4 240.8 1195.0 242.0C1208.6 243.2 1210.3 252.0 1197.0 254.0C1183.7 256.0 1108.6 258.2 1095.0 257.0C1081.4 255.8 1081.7 247.0 1095.0 245.0Z" fill="#b4b4b4" filter="url(#b3)"/>
<ellipse cx="1035" cy="222" rx="40" ry="18" fill="#757575" filter="url(#b12)"/>
<path d="M1240.0 250.0L1195.0 251.0L1100.0 256.0L1065.0 263.0L1060.0 270.0L1060.0 279.0L1088.0 289.0L1113.0 296.0L1138.0 306.0L1162.0 314.0L1173.0 321.0L1178.0 332.0L1189.0 342.0L1189.0 353.0L1173.0 356.0L1110.0 357.0L1075.0 355.0L1040.0 356.0L1020.0 352.0L1000.0 360.0L992.0 368.0L995.0 378.0L1005.0 386.0L1030.0 391.0L1062.0 393.0L1080.0 397.0L1120.0 400.0L1150.0 403.0L1170.0 404.0L1200.0 396.0L1240.0 390.0Z" fill="#9a9a9a" stroke="#9a9a9a" stroke-width="22" stroke-linejoin="round" filter="url(#b5)"/>
<path d="M1240.0 250.0L1195.0 251.0L1100.0 256.0L1065.0 263.0L1060.0 270.0L1060.0 279.0L1088.0 289.0L1113.0 296.0L1138.0 306.0L1162.0 314.0L1173.0 321.0L1178.0 332.0L1189.0 342.0L1189.0 353.0L1173.0 356.0L1110.0 357.0L1075.0 355.0L1040.0 356.0L1020.0 352.0L1000.0 360.0L992.0 368.0L995.0 378.0L1005.0 386.0L1030.0 391.0L1062.0 393.0L1080.0 397.0L1120.0 400.0L1150.0 403.0L1170.0 404.0L1200.0 396.0L1240.0 390.0Z" fill="#b5b5b5" stroke="#b5b5b5" stroke-width="9" stroke-linejoin="round" filter="url(#b2_5)"/>
<path d="M945.0 352.0C950.0 342.7 956.7 350.0 975.0 350.0C993.3 350.0 988.3 342.0 1000.0 352.0C1011.7 362.0 990.0 365.7 1010.0 380.0C1030.0 394.3 1041.7 386.7 1060.0 395.0C1078.3 403.3 1078.3 401.7 1065.0 405.0C1051.7 408.3 1046.7 408.3 1020.0 405.0C993.3 401.7 1005.0 404.0 985.0 395.0C965.0 386.0 973.3 392.3 960.0 378.0C946.7 363.7 940.0 361.3 945.0 352.0Z" fill="#9f9f9f" stroke="#9f9f9f" stroke-width="8" stroke-linejoin="round" filter="url(#b8)"/>
<path d="M965.0 358.0C970.0 350.3 978.3 351.0 990.0 355.0C1001.7 359.0 993.3 360.0 1000.0 370.0C1006.7 380.0 993.3 376.3 1010.0 385.0C1026.7 393.7 1043.3 391.0 1050.0 396.0C1056.7 401.0 1048.3 401.3 1030.0 400.0C1011.7 398.7 1013.3 399.3 995.0 392.0C976.7 384.7 985.0 389.3 975.0 378.0C965.0 366.7 960.0 365.7 965.0 358.0Z" fill="#b4b4b4" filter="url(#b6)"/>
<path d="M1240.0 250.0L1195.0 251.0L1100.0 256.0L1091.2 256.0L1091.2 257.8L1082.5 257.8L1082.5 259.5L1073.8 259.5L1073.8 261.2L1065.0 261.2L1065.0 263.0L1060.0 270.0L1060.0 279.0L1067.0 279.0L1067.0 281.5L1074.0 281.5L1074.0 284.0L1081.0 284.0L1081.0 286.5L1088.0 286.5L1088.0 289.0L1096.3 289.0L1096.3 291.3L1104.7 291.3L1104.7 293.7L1113.0 293.7L1113.0 296.0L1121.3 296.0L1121.3 299.3L1129.7 299.3L1129.7 302.7L1138.0 302.7L1138.0 306.0L1146.0 306.0L1146.0 308.7L1154.0 308.7L1154.0 311.3L1162.0 311.3L1162.0 314.0L1173.0 321.0L1178.0 332.0L1189.0 342.0L1189.0 353.0L1173.0 356.0L1110.0 357.0L1075.0 355.0L1040.0 356.0L1020.0 352.0L1010.0 352.0L1010.0 356.0L1000.0 356.0L1000.0 360.0L992.0 368.0L995.0 378.0L1005.0 386.0L1030.0 391.0L1062.0 393.0L1080.0 397.0L1120.0 400.0L1150.0 403.0L1170.0 404.0L1177.5 404.0L1177.5 402.0L1185.0 402.0L1185.0 400.0L1192.5 400.0L1192.5 398.0L1200.0 398.0L1200.0 396.0L1208.0 396.0L1208.0 394.8L1216.0 394.8L1216.0 393.6L1224.0 393.6L1224.0 392.4L1232.0 392.4L1232.0 391.2L1240.0 391.2L1240.0 390.0Z" fill="#c2c2c2" filter="url(#b2_0)"/>
<path d="M955.0 532.0C961.7 527.7 990.7 517.1 1010.0 514.0C1029.3 510.9 1077.3 509.0 1100.0 509.0C1122.7 509.0 1161.3 515.2 1180.0 514.0C1198.7 512.8 1232.0 493.6 1240.0 500.0C1248.0 506.4 1248.0 553.5 1240.0 562.0C1232.0 570.5 1198.7 564.3 1180.0 564.0C1161.3 563.7 1122.7 560.9 1100.0 560.0C1077.3 559.1 1028.7 558.9 1010.0 557.0C991.3 555.1 967.3 549.3 960.0 546.0C952.7 542.7 948.3 536.3 955.0 532.0Z" fill="#aaaaaa" filter="url(#b9)"/>
<path d="M1015.0 529.0L1140.0 529.0L1150.0 537.0L1160.0 543.0L1177.0 545.0L1177.0 552.0L1145.0 552.0L1140.0 545.0L1050.0 545.0L1045.0 537.0L1015.0 537.0Z" fill="#b4b4b4" stroke="#b4b4b4" stroke-width="24" stroke-linejoin="round" filter="url(#b6)"/>
<path d="M1015.0 529.0L1140.0 529.0L1150.0 537.0L1160.0 543.0L1177.0 545.0L1177.0 552.0L1145.0 552.0L1140.0 545.0L1050.0 545.0L1045.0 537.0L1015.0 537.0Z" fill="#c2c2c2" filter="url(#b2_6)"/>
<ellipse cx="127" cy="492" rx="12" ry="4.5" fill="#c2c2c2" filter="url(#b3)"/>
<ellipse cx="345" cy="610" rx="100" ry="13" fill="#afafaf" filter="url(#b10)"/>
<ellipse cx="350" cy="609" rx="42" ry="6" fill="#b4b4b4" filter="url(#b7)"/>
<ellipse cx="525" cy="484" rx="75" ry="30" fill="#959595" filter="url(#b14)"/>
<ellipse cx="507" cy="479" rx="50" ry="28" fill="#9d9d9d" filter="url(#b9)"/>
<ellipse cx="507" cy="477" rx="34" ry="17" fill="#b4b4b4" filter="url(#b6)"/>
<ellipse cx="505" cy="475" rx="16" ry="4.5" fill="#c5c5c5" filter="url(#b2_5)"/>
</g></g>
<g clip-path="url(#mapclip)" fill="none" stroke="#000" stroke-width="0.8" stroke-linejoin="round">
<path d="M102.4 161.7L108.8 153.0L121.6 147.6L139.2 143.4L160.0 146.0L188.9 148.9L208.1 150.8L230.5 147.6L240.1 149.2L256.1 149.2L272.1 154.0L288.1 154.0L304.1 152.4L320.1 154.0L332.9 154.0L336.1 142.8L345.7 147.6L352.1 152.4L361.7 154.0L368.1 149.2L377.7 149.2L380.9 154.0L368.1 160.4L361.7 165.2L345.7 170.0L339.3 179.6L342.5 184.4L352.1 189.2L368.1 194.7L377.7 195.7L377.7 203.7L384.1 207.8L387.3 205.3L387.3 197.3L393.7 192.4L393.7 186.0L390.5 179.6L390.5 171.9L403.3 172.3L416.2 176.4L419.4 182.8L429.0 184.4L433.8 178.7L441.8 187.6L448.2 195.7L457.8 202.1L461.0 206.9L448.2 211.0L429.0 211.0L422.6 214.9L432.2 214.9L433.8 221.3L445.0 224.5L435.4 229.3L429.0 230.9L425.8 227.7L416.2 231.9L414.6 237.3L403.3 241.8L398.5 250.1L396.9 258.1L390.5 262.9L380.9 269.3L380.0 275.7L384.1 287.0L382.5 291.1L377.7 287.0L375.2 278.9L371.3 275.7L364.9 274.8L355.3 275.1L353.7 278.3L348.9 278.0L339.3 277.0L329.7 282.8L328.1 291.8L327.2 299.8L332.9 311.0L337.7 313.5L347.3 312.6L350.5 304.6L361.7 303.0L360.1 311.0L356.9 320.6L364.9 321.2L373.6 323.8L372.9 336.6L377.7 343.0L385.7 341.4L392.1 344.6L398.5 338.2L406.5 335.6L411.3 332.1L413.0 336.6L422.6 335.6L435.4 338.2L441.8 337.6L448.2 344.6L457.8 352.6L467.4 353.3L475.4 357.4L480.2 367.0L480.2 371.9L486.6 375.1L497.8 379.9L509.0 381.5L520.2 386.9L527.6 389.5L528.2 397.5L521.8 407.1L515.4 413.5L515.4 426.3L510.6 437.5L505.8 445.5L496.2 447.8L486.6 453.5L484.3 461.6L477.0 471.2L469.0 480.8L459.4 483.3L453.6 480.8L457.8 488.8L454.6 494.5L441.8 496.8L440.8 503.2L432.2 503.2L436.3 508.6L430.6 516.0L424.2 520.8L429.0 525.6L422.6 532.0L419.4 538.4L421.6 541.6L430.6 547.4L421.0 549.0L413.0 546.4L403.3 540.0L398.5 532.0L401.7 522.4L404.9 512.8L404.0 503.2L404.9 490.4L411.3 474.4L411.3 461.6L415.2 447.1L415.2 430.5L409.7 426.3L396.9 416.7L392.8 410.3L387.3 397.5L380.9 391.1L380.0 385.6L384.1 381.5L381.9 375.1L384.1 370.2L388.0 367.0L392.1 359.0L392.1 349.4L384.1 348.5L374.5 344.6L365.9 339.8L360.1 330.2L347.3 327.0L337.7 320.0L329.7 321.2L316.9 316.4L302.5 307.8L302.5 299.8L291.3 290.2L280.1 278.9L273.0 270.3L275.3 275.7L284.9 288.6L289.7 298.2L281.7 291.8L273.7 282.1L268.9 274.1L265.0 267.4L254.5 261.3L249.7 254.0L243.9 245.3L242.3 237.3L243.3 224.5L241.0 216.8L246.5 216.5L246.5 213.9L240.1 211.7L232.1 208.5L230.5 203.7L224.1 197.3L217.7 192.4L211.3 186.0L203.3 184.4L193.7 180.3L179.2 179.6L166.4 178.0L155.2 181.9L153.6 176.4L147.2 182.8L137.6 189.2L124.8 194.7L113.6 197.3L121.6 192.4L134.4 184.4L121.6 182.8L113.6 178.0L108.8 173.2L115.2 170.0L124.8 165.2L112.0 165.2L102.4 161.7M406.5 121.0L422.6 115.6L448.2 109.2L496.2 107.6L544.2 104.3L576.2 109.2L582.6 115.6L576.2 128.4L579.4 134.8L569.8 141.2L569.8 146.0L557.0 152.4L537.8 154.0L518.6 161.4L509.0 170.0L502.6 179.6L496.2 179.6L486.6 176.4L477.0 166.8L469.0 157.2L477.0 149.2L464.2 144.4L461.0 134.8L448.2 128.4L422.6 128.4L409.7 123.6L406.5 121.0M384.1 135.7L396.9 138.6L409.7 142.8L422.6 147.6L425.8 152.4L441.8 157.2L441.8 160.4L432.2 162.0L435.4 168.4L422.6 172.3L409.7 167.5L396.9 165.2L390.5 163.6L403.3 162.0L406.5 155.6L393.7 149.2L380.9 147.6L368.1 147.6L355.3 144.4L352.1 138.0L368.1 135.4L384.1 135.7M265.7 147.6L281.7 152.1L300.9 151.4L316.9 149.2L307.3 144.4L304.1 138.0L288.1 138.6L272.1 138.0L262.5 142.8L265.7 147.6M352.1 126.8L384.1 127.4L390.5 122.0L409.7 118.8L432.2 112.4L441.8 107.6L400.1 106.0L352.1 109.2L345.7 115.6L358.5 122.0L352.1 126.8M240.1 141.2L256.1 142.8L268.9 138.0L262.5 131.6L243.3 134.8L240.1 141.2M345.7 132.5L384.1 133.2L384.1 130.0L352.1 128.4L345.7 132.5M268.9 131.6L294.5 132.2L300.9 128.4L281.7 126.8L265.7 128.4L268.9 131.6M361.7 163.6L377.7 167.8L384.1 165.2L371.3 160.4L361.7 163.6M450.4 219.4L464.2 221.9L471.2 219.7L469.0 214.9L461.0 211.7L462.6 206.9L456.2 210.1L451.4 216.5L450.4 219.4M368.1 301.4L377.7 297.5L390.5 300.4L400.1 305.5L402.7 307.5L392.1 308.1L390.5 305.5L384.1 302.0L374.5 301.4L368.1 301.4M401.7 312.6L408.1 308.1L416.2 308.4L421.3 312.3L414.6 313.5L409.7 313.9L401.7 312.6M563.4 162.0L569.8 159.1L582.6 159.8L592.2 159.8L597.0 163.6L592.2 165.9L579.4 168.4L568.2 167.1L569.8 164.3L563.4 162.0M611.4 234.1L609.8 247.9L611.4 253.3L621.0 255.9L623.3 256.2L633.8 254.0L638.6 248.5L641.2 243.7L650.5 237.3L651.5 233.1L661.1 233.8L668.4 229.6L673.9 234.1L679.6 238.3L690.5 243.7L691.5 249.5L694.7 246.9L693.4 242.1L699.5 243.1L691.5 237.9L685.1 235.4L680.3 229.9L679.6 226.7L684.1 225.8L688.3 229.3L696.3 234.1L702.7 237.9L702.7 242.7L707.5 247.6L709.7 254.0L713.2 254.9L714.5 250.1L717.1 250.1L712.9 245.3L715.5 242.7L723.5 241.1L724.4 245.3L726.7 248.8L728.3 253.3L730.8 254.3L737.9 255.6L744.3 256.2L750.7 254.3L755.5 254.0L755.5 258.1L753.9 264.5L751.7 269.3L750.1 271.6L744.3 271.9L739.5 270.9L733.1 272.5L721.9 270.6L713.9 267.4L704.3 269.3L703.6 274.1L696.3 272.5L689.2 268.4L678.7 266.8L673.9 263.6L673.2 258.1L675.5 253.3L671.6 252.4L662.7 253.3L649.9 254.0L640.2 257.2L633.8 259.4L623.3 256.8L621.0 257.2L617.8 262.9L609.8 270.9L608.9 276.4L603.4 281.5L598.6 283.1L592.9 290.2L589.0 295.9L585.8 304.6L588.1 311.0L587.4 319.0L584.2 324.8L586.8 331.8L592.2 336.6L597.0 341.4L600.2 347.8L606.6 351.7L616.2 357.8L625.8 355.2L633.8 356.5L643.5 352.9L653.1 351.7L657.9 357.4L662.7 357.8L668.4 357.4L671.3 362.2L670.7 368.6L669.1 374.1L670.7 379.9L677.1 386.3L679.3 391.1L682.8 399.1L684.4 407.1L680.3 415.1L678.0 423.1L678.7 431.1L686.7 443.9L688.3 456.7L694.0 464.8L698.5 474.4L699.2 481.4L704.3 483.3L712.3 480.8L722.5 480.8L728.3 478.5L736.3 471.2L742.7 464.1L745.3 455.1L753.6 448.7L752.3 437.5L758.7 427.9L769.9 419.9L769.9 407.1L766.1 397.5L765.1 389.5L769.9 379.9L776.3 371.9L787.5 363.8L795.5 355.8L802.9 339.8L804.2 333.4L793.9 336.0L782.7 338.2L778.6 335.0L777.3 330.2L771.5 324.4L766.7 321.9L763.5 314.2L759.3 304.6L755.5 295.9L750.7 283.8L747.5 281.2L744.3 275.7L747.5 282.1L750.1 282.8L752.3 277.3L752.3 282.1L757.7 289.2L765.1 301.4L769.9 311.0L776.9 320.6L778.9 331.2L784.3 330.8L793.9 327.0L807.4 320.6L817.0 315.8L825.0 311.3L831.7 299.8L827.9 295.9L820.5 292.1L820.5 287.6L814.7 294.0L805.4 295.0L804.5 288.6L801.0 287.0L796.5 283.1L793.9 277.3L796.5 274.8L801.9 277.3L806.7 283.8L814.7 286.6L821.1 285.4L823.7 290.2L837.1 291.1L853.1 290.5L855.7 293.4L859.5 297.5L865.3 304.9L872.4 303.9L873.0 311.0L875.6 320.6L879.7 331.8L884.5 341.4L888.4 345.9L890.6 343.0L894.1 338.9L897.3 329.2L897.0 322.2L903.7 318.7L912.4 309.4L918.8 303.3L925.2 302.0L930.0 299.8L934.1 300.4L935.7 305.5L942.1 312.6L942.1 320.6L945.3 321.2L952.4 318.0L953.0 323.8L955.6 333.4L954.9 344.6L961.4 351.0L964.6 362.6L971.6 367.4L973.8 367.4L971.3 359.0L967.4 352.0L962.0 348.8L959.7 341.4L960.4 331.8L963.0 329.2L968.4 333.4L975.8 338.9L976.4 344.0L982.2 338.5L989.8 335.0L990.2 328.6L988.6 322.2L982.8 315.8L979.0 309.4L982.8 304.6L987.0 302.7L991.8 303.0L993.4 306.5L998.2 302.3L1005.2 300.1L1014.2 297.5L1020.6 292.4L1024.4 287.0L1030.2 278.0L1030.5 272.5L1026.0 262.9L1022.2 259.1L1027.0 254.9L1032.4 253.3L1027.6 251.1L1021.2 252.4L1018.0 248.5L1018.0 246.3L1027.6 241.1L1029.9 246.9L1038.2 243.7L1041.1 248.5L1045.2 251.7L1044.6 261.0L1053.2 259.1L1054.5 253.3L1050.0 245.3L1055.5 239.5L1059.6 235.7L1066.0 234.7L1074.0 229.3L1082.0 221.3L1090.0 211.7L1091.6 202.1L1086.8 198.9L1078.8 198.9L1073.1 196.3L1082.0 189.9L1091.6 184.4L1106.1 181.6L1117.3 181.2L1128.5 182.8L1138.1 181.2L1142.9 174.5L1153.4 173.5L1163.0 171.6L1155.7 178.0L1142.9 186.0L1139.7 189.2L1138.1 198.9L1141.3 208.5L1147.7 202.1L1152.5 197.3L1158.9 195.7L1160.5 191.5L1163.0 186.0L1159.8 183.8L1165.3 180.3L1171.7 178.7L1186.1 179.6L1190.9 176.4L1198.9 173.9L1208.5 171.6L1214.9 171.6L1210.1 165.2L1219.7 162.0M1219.7 151.1L1203.7 148.6L1187.7 147.9L1186.1 151.4L1168.5 149.2L1155.7 149.2L1150.9 146.0L1136.5 144.4L1120.5 141.2L1107.7 140.2L1088.4 139.6L1085.2 142.8L1072.4 142.8L1058.0 145.0L1053.2 139.6L1046.8 139.6L1034.0 138.0L1018.0 136.4L1003.6 135.4L992.4 133.2L1002.0 128.4L973.2 122.9L960.4 127.4L944.4 128.4L918.8 131.6L899.6 136.4L898.0 140.6L906.0 146.0L896.4 139.6L890.0 140.2L880.4 139.6L874.0 142.8L877.2 150.8L872.4 158.8L870.8 150.8L872.4 142.8L864.3 138.0L854.7 142.8L853.8 149.2L859.5 153.0L848.3 150.2L833.9 148.2L832.3 152.4L816.3 152.4L813.1 153.4L809.9 151.4L793.9 155.0L789.1 153.4L781.1 152.4L779.5 158.8L782.7 160.4L768.3 164.9L758.7 167.5L752.3 165.9L745.9 158.8L753.9 159.1L769.9 159.5L771.5 155.6L761.9 153.0L745.9 149.5L736.3 148.2L723.5 144.4L710.7 146.6L697.9 149.2L688.3 154.0L681.9 160.4L675.5 165.2L665.9 169.4L656.3 173.2L656.3 179.6L657.9 183.5L662.7 186.0L667.5 185.4L673.9 181.9L675.5 184.4L680.3 191.5L681.9 194.4L686.0 193.7L693.1 190.8L693.1 187.0L699.5 181.9L695.6 177.4L696.3 171.6L705.9 167.8L710.7 162.0L718.7 161.4L721.2 163.6L712.3 169.4L708.4 174.8L710.7 178.7L720.3 179.3L729.9 178.0L736.3 179.6L729.9 181.2L717.1 181.6L715.5 184.4L718.0 186.7L710.7 187.3L707.5 190.8L707.5 195.7L703.6 197.6L699.5 196.6L686.0 198.9L675.5 198.9L672.3 197.3L673.9 192.4L674.8 190.8L673.9 187.6L666.5 189.2L666.2 194.1L668.1 198.9L662.7 200.5L655.6 202.1L651.5 207.2L645.4 208.8L640.9 213.0L636.1 212.6L635.1 215.8L625.2 216.8L631.3 220.0L636.4 223.8L635.4 232.5L629.0 232.5L614.6 231.9L611.4 234.1M60.8 162.0L76.8 162.0L89.6 165.2L96.0 160.4L89.6 157.2L76.8 154.0L60.8 151.1M622.6 211.7L630.6 209.7L641.9 209.1L644.7 207.5L645.7 203.0L640.9 202.1L639.6 198.2L635.4 195.0L633.8 192.4L630.6 192.4L633.8 187.6L627.4 187.0L630.0 184.1L624.2 184.1L621.0 187.6L622.6 192.4L624.9 196.3L630.6 198.9L630.0 201.1L625.8 201.4L626.8 204.6L623.6 205.9L629.0 207.2L625.8 208.5L622.6 211.7M608.2 205.9L614.6 206.5L620.4 204.3L621.0 198.9L622.0 196.3L616.9 194.7L613.0 197.3L608.2 198.2L609.8 202.1L608.2 205.9M798.1 410.3L801.3 421.5L798.7 427.9L795.5 439.1L790.7 451.9L784.3 453.5L780.2 447.1L779.5 440.7L782.7 434.3L781.1 426.3L789.1 422.1L793.9 415.1L798.1 410.3M896.4 340.8L900.5 344.6L902.1 349.4L898.6 352.6L895.7 349.4L896.4 340.8M1056.4 266.1L1059.6 271.9L1062.2 265.2L1059.6 262.9L1064.4 262.3L1072.4 261.3L1074.7 264.5L1078.8 261.0L1084.6 260.7L1088.4 259.4L1091.0 257.5L1091.6 250.1L1094.8 245.3L1093.2 239.5L1089.4 240.5L1088.4 244.3L1086.8 249.2L1079.8 254.0L1078.2 252.4L1075.6 256.5L1074.0 257.8L1066.0 258.1L1059.6 261.6L1056.4 266.1M1088.4 238.9L1092.3 235.7L1099.0 237.3L1106.1 233.1L1102.2 230.9L1094.8 226.1L1093.2 232.5L1089.4 233.5L1088.4 238.9M1094.8 224.5L1099.0 221.9L1098.1 214.9L1102.9 214.9L1099.0 205.3L1098.1 197.9L1095.8 200.5L1094.8 208.5L1094.8 218.1L1094.8 224.5M1027.6 291.1L1030.8 291.8L1027.6 301.4L1025.1 298.2L1027.6 291.1M988.2 310.0L994.0 307.8L995.6 309.4L990.8 313.5L988.2 310.0M1026.0 312.6L1031.5 312.6L1030.8 320.6L1029.5 326.4L1037.2 330.2L1035.6 331.2L1029.2 328.0L1026.7 325.4L1024.4 320.6L1026.0 312.6M1030.8 349.4L1035.6 344.3L1042.0 340.5L1045.2 347.8L1042.0 353.3L1037.2 351.0L1030.8 349.4M1034.0 335.0L1038.8 335.6L1041.4 338.9L1037.2 339.8L1034.0 342.4L1032.4 338.2L1034.0 335.0M1015.5 344.6L1022.8 335.6L1021.9 339.2L1016.4 345.3L1015.5 344.6M989.2 367.0L992.4 366.4L997.2 362.9L1002.0 361.6L1006.8 356.5L1013.9 349.4L1019.6 354.2L1021.2 355.8L1017.4 360.6L1018.0 368.6L1016.4 374.4L1013.2 378.3L1011.6 384.7L1006.8 384.7L1002.0 382.1L997.2 382.4L992.4 376.7L989.2 371.9L989.2 367.0M945.3 353.9L952.4 355.2L960.4 362.2L965.2 365.4L971.6 371.9L974.8 378.3L979.6 381.5L979.0 390.4L974.8 390.4L966.8 384.7L962.0 378.3L957.2 370.2L952.4 363.8L945.3 353.9M977.0 393.6L981.2 391.1L987.6 393.3L995.6 392.7L1002.0 394.3L1006.8 396.8L1006.2 399.4L995.6 398.4L986.0 396.8L981.2 395.6L977.0 393.6M1010.0 398.4L1014.8 398.4L1021.2 399.1L1027.6 399.4L1034.0 398.8L1027.6 400.7L1019.6 400.7L1011.6 400.4L1010.0 398.4M1035.9 404.8L1040.4 400.7L1047.5 398.8L1045.2 401.3L1038.8 404.5L1035.9 404.8M1022.8 389.5L1022.8 383.1L1020.6 380.5L1023.8 370.2L1027.6 367.7L1034.0 369.0L1040.4 366.7L1037.2 370.6L1029.2 370.6L1025.1 374.7L1029.2 375.1L1035.0 375.1L1030.8 377.6L1029.2 378.3L1032.4 383.1L1034.0 388.8L1030.8 387.2L1027.6 380.8L1026.0 381.5L1025.7 389.5L1022.8 389.5M1048.4 366.1L1050.0 370.2L1051.6 374.4L1049.4 371.9L1048.4 366.1M1050.0 382.1L1059.0 381.5L1056.4 383.4L1050.0 382.7L1050.0 382.1M1059.6 374.4L1064.4 373.1L1069.2 374.4L1072.4 382.4L1080.4 377.0L1091.6 380.2L1102.9 384.3L1107.7 389.5L1113.4 392.7L1110.9 394.3L1115.7 400.7L1123.0 404.8L1114.1 404.5L1109.3 400.0L1102.9 396.5L1098.1 401.3L1091.6 401.3L1083.6 398.4L1082.0 389.5L1074.0 385.9L1066.0 384.7L1065.1 380.8L1069.2 379.2L1062.8 378.9L1059.6 374.4M1115.0 389.5L1120.5 387.9L1126.9 385.3L1127.5 387.9L1122.1 391.7L1115.0 389.5M1005.2 442.3L1003.6 450.3L1005.8 456.7L1008.4 468.0L1010.7 474.4L1008.4 481.7L1018.0 484.0L1024.4 480.8L1035.6 480.8L1043.6 475.3L1053.2 473.4L1061.2 472.8L1069.2 476.9L1074.0 483.3L1080.4 477.6L1082.0 480.8L1081.4 485.9L1086.8 487.2L1090.0 493.6L1099.7 496.1L1104.5 494.2L1109.3 496.8L1114.1 493.3L1120.5 491.3L1122.1 484.0L1124.6 479.2L1130.1 471.2L1131.7 461.6L1130.1 453.5L1123.7 448.1L1118.9 443.3L1115.7 436.6L1108.6 432.7L1107.7 426.3L1105.4 419.9L1100.6 417.7L1099.0 410.3L1096.4 406.4L1094.2 411.9L1093.2 421.5L1091.0 427.9L1085.2 427.9L1080.4 423.1L1075.0 419.9L1077.2 411.3L1072.4 410.9L1066.0 408.7L1059.6 410.9L1056.4 415.1L1054.8 419.9L1050.0 419.3L1045.2 416.7L1040.4 420.9L1035.6 427.3L1031.5 430.2L1027.6 434.3L1019.6 436.9L1013.2 438.2L1006.8 441.7L1005.2 442.3M1103.5 502.2L1109.3 503.8L1115.0 503.2L1114.1 509.6L1109.3 511.5L1105.4 508.0L1103.5 502.2M1193.1 482.1L1198.9 488.8L1203.1 489.4L1203.7 492.3L1210.1 492.3L1211.1 495.8L1206.9 497.8L1206.3 500.6L1201.5 505.1L1199.9 504.2L1200.5 500.0L1196.7 497.8L1199.2 493.6L1198.9 490.4L1194.1 484.0L1193.1 482.1M1193.1 501.6L1197.9 504.8L1194.1 509.9L1193.1 512.2L1188.3 514.4L1186.1 519.2L1179.7 521.1L1173.3 519.2L1176.5 514.4L1179.7 512.8L1186.1 509.6L1189.3 505.8L1193.1 501.6M1165.3 436.6L1173.3 441.7L1174.9 443.6L1168.5 440.1L1165.3 436.6M60.8 622.7L112.0 623.3L134.4 619.2L160.0 616.9L192.1 613.1L224.1 609.9L256.1 608.9L288.1 610.5L310.5 605.7L320.1 604.1L336.1 605.7L352.1 605.1L384.1 605.7L400.1 604.1L416.2 600.9L422.6 592.9L429.0 584.9L441.8 578.5L454.6 574.6L457.8 576.9L446.6 581.7L441.8 588.1L443.4 596.1L445.0 605.7L448.2 612.1L464.2 618.5L496.2 621.7L528.2 621.7L550.6 616.9L576.2 608.9L592.2 604.1L608.2 599.3L640.2 597.1L672.3 596.1L704.3 596.1L736.3 594.5L752.3 592.9L768.3 591.3L784.3 588.7L806.7 583.3L822.7 586.5L838.7 588.1L857.9 589.7L864.3 594.5L874.0 595.1L890.0 591.3L902.8 586.5L922.0 585.5L944.4 584.9L960.4 583.3L976.4 584.9L992.4 583.3L1008.4 584.9L1024.4 585.5L1046.8 584.2L1072.4 583.3L1088.4 585.5L1104.5 586.5L1120.5 591.0L1136.5 592.9L1152.5 596.1L1168.5 598.3L1184.5 600.9L1187.7 605.7L1171.7 610.5L1163.7 615.3L1165.3 620.1L1174.9 621.7L1190.9 621.7L1219.7 622.7M729.9 239.5L733.1 239.9L741.1 239.9L752.3 237.3L761.9 240.5L773.1 238.9L771.5 234.1L763.5 229.9L760.3 227.7L765.1 221.3L752.3 224.5L747.5 229.3L745.9 224.5L739.5 222.6L735.3 226.7L731.5 232.5L729.9 239.5M790.7 226.1L798.7 222.9L805.1 221.9L809.9 222.9L809.9 227.7L804.5 229.3L801.3 229.9L803.5 234.1L808.3 235.7L809.0 240.5L812.5 242.1L809.9 246.9L813.1 252.4L806.7 254.0L800.3 252.0L797.1 248.5L798.7 242.7L795.5 237.3L792.3 234.1L790.7 226.1M827.5 224.5L833.9 222.9L837.1 227.7L832.3 232.5L827.5 229.3L827.5 224.5M973.2 206.9L979.6 203.7L987.6 198.9L991.8 193.4L989.2 193.4L984.4 200.5L976.4 205.3L973.2 206.9M805.1 142.8L816.3 145.4L824.3 144.4L819.5 138.0L832.3 131.6L857.9 125.8L851.5 125.2L825.9 128.4L813.1 134.8L806.7 139.6L805.1 142.8M675.5 117.2L685.1 122.0L694.7 126.1L704.3 120.4L726.7 115.6L704.3 114.0L688.3 115.6L675.5 117.2M944.4 115.6L960.4 118.8L976.4 118.8L970.0 114.0L950.8 112.4L944.4 115.6M1078.8 130.0L1098.1 131.6L1120.5 131.6L1107.7 128.4L1082.0 128.4L1078.8 130.0M1210.1 144.4L1219.7 143.4L1219.7 145.0L1211.7 145.0L1210.1 144.4M345.7 222.2L358.5 216.5L368.1 219.7L369.7 222.9L361.7 222.9L352.1 222.2L345.7 222.2M359.2 237.3L364.0 237.3L364.9 229.3L368.1 225.4L371.3 226.1L372.9 230.9L376.1 234.1L377.7 227.7L384.1 227.7L378.7 233.5L374.5 237.3L387.3 235.1L395.3 232.5L393.7 230.9L385.7 232.5L380.9 225.1L371.3 224.5L363.3 225.8L359.2 230.9L359.2 237.3M246.5 162.0L259.3 163.6L262.5 158.8L252.9 157.2L246.5 162.0M265.7 176.4L278.5 175.5L291.3 170.7L281.7 171.6L272.1 173.2L265.7 176.4M323.3 200.5L329.7 210.1L331.3 205.3L326.5 198.9L323.3 200.5M140.8 307.1L144.0 308.1L143.4 311.0L140.8 310.3L140.8 307.1M445.0 536.8L454.6 536.5L453.0 539.4L446.6 539.1L445.0 536.8M860.5 528.8L865.9 529.5L863.7 531.1L860.5 528.8M518.6 544.8L525.0 546.4L523.4 547.4L518.6 544.8M188.9 148.9L188.9 178.7M246.5 214.9L336.1 214.9L345.7 217.1M265.0 267.4L284.9 271.6L299.3 270.0L307.3 277.3L316.9 276.7L321.7 283.8L329.1 288.9M1091.6 380.2L1091.6 401.3M612.1 237.6L619.4 237.9L617.8 243.7L616.9 250.1L616.6 252.7M634.5 232.8L642.5 235.1L650.5 236.0M648.3 208.1L653.7 211.7L659.5 213.3L666.5 214.9L664.6 219.4L659.5 223.5L662.7 224.8L662.7 230.3L664.3 231.5M662.7 201.1L662.7 204.6L659.5 205.9L659.5 209.1L659.5 213.3M651.1 207.2L654.7 207.2L659.5 207.8M667.8 196.0L671.9 196.3M686.0 199.2L687.0 203.7L688.3 208.5L679.6 210.7L684.4 215.5L681.9 219.7L672.3 219.7L664.6 219.4M662.7 224.8L669.1 224.5L673.9 221.9L679.3 221.3L684.1 222.9L692.1 221.6L695.0 218.1L694.7 215.5L684.4 215.5M688.3 208.5L693.1 210.7L700.4 213.3L712.6 214.6L717.1 209.1L715.8 203.3L715.5 199.2L713.2 197.6L703.6 197.6M707.5 192.1L720.3 191.5L725.4 193.4L725.4 194.7L715.5 199.2M718.0 186.4L728.0 187.6M730.5 181.6L728.0 187.6L730.5 191.8L725.4 193.4M730.5 191.8L739.5 195.7L744.9 200.5L742.1 204.9L715.8 206.5M742.1 204.9L753.9 210.4L768.3 213.0L767.3 218.7L762.5 221.0M712.6 214.6L711.3 216.8L720.0 219.0L725.4 217.1L730.5 226.1L735.0 226.7M711.3 216.8L707.5 223.8L712.3 229.3L712.9 231.5L726.7 230.6L731.8 231.9M695.0 218.1L700.4 218.7L711.3 216.8M692.1 221.6L700.8 224.8L707.5 223.8M684.1 226.1L689.2 226.1L693.1 223.2M700.8 224.8L701.1 228.0L703.0 230.9L701.7 232.5L704.3 235.1L702.4 237.6M712.9 231.5L712.0 236.3L713.6 239.5L724.4 238.3L723.5 241.1M704.3 235.1L707.5 237.3L712.0 236.3M702.4 237.6L706.2 240.5L707.5 241.1L704.3 244.7M707.5 241.1L713.6 239.5M724.4 238.3L729.9 237.3M689.2 226.1L691.5 227.0L693.1 230.9L696.6 234.1L699.5 235.7M691.5 227.0L701.1 228.0M732.8 150.5L736.3 161.4L741.1 170.3L729.2 178.0M706.2 150.5L716.1 154.3L717.4 161.1M706.2 150.5L691.5 157.2L686.7 163.6L678.7 169.1L679.6 176.4L680.9 179.6L676.4 182.5M706.2 150.5L722.8 151.8L722.5 149.5L729.9 147.3L732.8 150.5L738.9 148.2M616.9 195.3L614.6 197.3L620.1 198.5M768.3 232.5L779.5 235.4L789.1 237.9L795.5 237.9M773.1 238.9L779.5 240.2L784.3 239.5L789.1 237.9M779.5 240.2L780.2 243.4L781.1 245.6L787.5 247.2L793.9 245.0L796.8 248.8M756.1 256.5L761.9 254.0L776.0 253.0L783.7 252.7L781.1 245.6M783.7 252.7L787.5 257.2L785.6 262.9L793.3 270.0L795.8 275.7M754.2 267.1L758.1 268.4L764.5 264.8L771.5 261.6L776.0 253.0M764.5 264.8L765.1 268.7L774.7 272.2L783.4 278.3L789.1 278.6L793.0 280.5M752.3 277.3L755.5 278.3L760.3 275.7L758.7 270.9L765.1 268.7M750.1 271.6L752.0 277.3M754.2 267.1L753.9 270.9L752.3 277.3M777.3 319.3L781.1 316.1L790.7 317.4L806.7 311.0L816.3 307.8L818.6 299.1L819.5 292.1M806.7 311.0L810.2 318.3M805.4 295.0L808.6 298.5L817.0 299.1M813.1 252.4L820.5 249.8L836.2 254.6L833.9 262.9L835.5 271.3L838.1 276.4L842.9 284.7L837.5 291.1M836.2 254.6L846.7 255.6L853.1 252.0L857.9 253.3L867.5 248.8L879.7 252.7M834.9 276.1L852.5 276.4L862.1 269.7L867.5 262.9L869.8 255.2L879.7 252.7M808.3 238.3L813.1 236.3L819.5 239.5L819.5 227.7L827.5 226.1L838.7 232.5L851.5 234.1L853.1 239.9L857.9 240.5L867.5 235.7L877.2 234.1L897.0 236.7M819.5 239.5L827.5 235.1L835.5 239.9L840.3 243.7L853.1 252.0M857.9 240.5L865.9 243.1L876.2 245.3M853.1 239.9L857.9 243.7L857.3 252.7M867.5 235.7L875.6 242.1L876.2 245.3M797.1 223.5L790.7 217.4L790.7 210.7L803.5 206.2L816.3 209.1L835.5 208.5L837.1 200.5L861.1 194.7L867.5 198.2L885.2 198.2L896.4 209.1L906.0 208.5L919.7 214.2M919.7 214.2L934.8 209.4L954.0 211.7L955.6 205.3L968.4 210.7L986.0 213.3L1005.2 211.0L1013.9 212.3M919.7 214.2L931.6 224.5L931.6 227.0L946.0 230.3L949.2 234.7L965.2 235.7L976.4 238.6L992.4 235.1L998.8 231.5L998.2 227.7L1011.6 222.9L1023.8 222.2L1013.9 212.3M1013.9 212.3L1022.8 211.7L1027.0 202.7L1035.6 200.5L1045.2 206.9L1048.4 212.3L1058.7 215.2L1059.0 219.0L1071.5 217.1L1066.7 227.0L1060.3 228.3L1059.6 234.4L1058.4 236.0M1038.2 243.7L1046.2 237.9L1050.7 237.3L1058.4 236.0M1043.9 250.8L1051.3 248.2M919.7 214.2L914.0 221.3L904.4 226.7L897.0 236.7L883.6 242.4L876.2 245.3L879.7 252.7L890.0 258.1L893.2 267.7L899.6 275.1L915.6 282.1L924.5 284.4L934.8 282.8L947.6 278.0L952.1 281.2L956.2 283.8L955.6 293.4L958.8 299.8L964.2 303.3L967.4 300.1L977.4 297.2L981.8 301.4L986.0 303.0M858.6 295.9L867.5 292.7L863.1 284.7L874.0 275.7L878.8 267.7L877.2 261.3L886.8 258.1M899.6 275.1L896.7 279.6L909.2 283.8L922.3 287.3L924.5 284.4M922.3 287.3L922.3 293.4L925.2 301.4M935.7 305.5L936.7 301.4L932.5 294.3L927.7 288.6L934.8 285.7M936.7 301.4L939.3 295.0L945.0 286.6L952.1 281.2M955.6 339.8L957.5 334.0L954.6 323.8L955.9 319.3L952.1 312.6L960.4 306.8L964.2 303.3M960.4 306.8L963.6 315.8L967.1 313.5L973.2 313.2L975.8 319.3L978.3 325.4L969.4 326.4L968.4 333.4M978.3 325.4L984.4 325.4L984.7 332.4L979.3 336.6L974.8 338.5M973.2 313.2L977.0 312.3L972.9 308.7L975.1 306.2L967.4 300.1M960.7 351.3L966.2 353.3L967.1 352.0M991.1 365.4L994.0 369.0L998.8 367.0L1005.2 367.4L1010.0 362.2L1010.7 358.1L1016.7 358.4M414.9 430.5L417.8 427.9L421.0 434.3L422.6 444.9L425.8 445.5L421.0 451.9L421.0 458.3L416.2 468.0L416.2 477.6L414.6 487.2L412.3 496.8L410.4 506.4L411.0 516.0L408.8 524.0L405.6 532.0L408.8 535.2L409.7 538.4L421.3 539.7L420.6 547.7M425.8 445.5L432.2 442.3L439.5 443.0L445.0 448.1L455.5 452.9L452.6 459.0L461.0 459.3L465.5 453.9L468.0 459.0L455.8 468.6L453.9 478.2L453.6 480.8M455.8 468.6L462.6 470.8L469.3 479.8M465.5 453.9L466.4 448.7L462.6 443.3L454.9 442.6L453.9 436.6L442.4 434.6L439.5 443.0M587.4 320.6L593.8 318.7L601.2 324.4L603.8 332.1L596.4 331.5L586.8 332.1M592.2 336.6L596.4 334.4L596.4 331.5M597.7 343.0L607.3 344.6L603.4 349.7M607.3 344.6L613.0 347.5L616.2 357.8M613.0 347.5L614.6 339.2L603.8 332.1M614.6 339.2L622.6 338.5L631.3 341.4L630.0 355.5M631.3 336.6L640.2 336.6L641.9 344.6L644.1 352.3M643.1 336.6L645.4 343.0L646.0 351.7M643.1 336.6L647.9 332.4L651.8 334.4L648.9 343.0L648.9 351.7M622.6 338.5L622.6 335.0L626.5 329.6L633.8 326.4L640.9 324.1L643.5 323.8L651.5 322.5L653.7 319.0L653.7 310.3M640.9 324.1L643.5 330.2L647.9 332.4M631.3 341.4L631.3 336.6L622.6 335.0M601.2 324.4L601.8 323.8L622.6 322.2L622.6 319.0M651.8 334.4L653.7 328.6L662.7 330.2L669.1 330.8L678.7 329.6L683.5 328.0L685.7 331.8L683.5 339.8L678.7 343.7L675.5 350.4L669.1 352.6L667.8 356.5M683.5 328.0L683.5 325.4L689.9 318.0M685.7 331.8L689.9 339.8L685.1 340.5L688.9 348.1L687.0 352.9L692.1 364.8M688.9 348.1L693.4 347.2L701.1 343.0L709.7 337.9L713.6 336.6L710.7 330.8L712.3 327.0L717.1 321.6M713.6 336.6L715.8 344.0L728.0 355.5L712.0 358.7L699.8 360.6L692.1 364.8L682.8 364.8L671.6 364.5M715.8 344.0L718.7 343.7L729.9 341.1L742.7 333.4L745.9 332.8L746.5 339.2L749.4 341.4L752.9 333.4L756.8 325.7L758.7 317.4M756.8 325.7L768.3 325.4L776.0 331.8L778.6 335.0M778.6 335.0L777.3 336.9L781.1 343.0L793.9 346.2L784.3 355.8L774.7 358.4L771.5 359.4L766.7 361.0L755.5 357.8L752.3 354.2L745.9 346.2L749.4 341.4M771.5 359.4L771.5 374.7L773.4 377.3M765.7 386.9L760.6 381.5L749.1 375.1L750.7 368.6L749.1 358.4L755.5 357.8M749.1 358.4L739.5 360.0L739.2 364.5L735.0 376.3L737.9 375.1L749.1 375.1M739.5 360.0L728.0 355.5M699.8 360.6L697.2 373.5L691.5 379.9L689.9 384.7L681.9 386.6L679.3 390.4M682.8 364.8L682.8 368.0L686.4 376.0L678.7 379.5L675.8 384.3M671.6 368.6L676.4 368.6L676.4 364.8M681.2 390.8L693.4 390.8L694.7 395.9L702.7 395.2L710.7 407.1L717.1 407.1L717.1 413.5L710.7 413.5L710.7 423.1L715.2 428.2M678.0 427.0L685.1 427.6L699.5 427.6L715.2 428.2L720.9 428.9M717.1 407.1L723.5 409.7L731.2 411.9L733.1 414.8L735.7 410.9L731.5 401.3L738.9 398.1L734.4 386.3L733.1 380.5L735.0 376.3M738.9 398.1L745.6 402.0L749.1 402.3L751.0 409.0L760.3 409.3L769.6 405.5M745.6 402.0L745.9 416.7L750.7 418.3L754.9 423.1L753.3 426.6L750.1 418.0L751.0 409.0M720.9 428.9L726.7 429.5L732.8 422.8L737.6 421.8L736.9 419.3L745.9 416.7M737.6 421.8L745.9 424.7L745.6 432.7L744.9 440.1L740.5 443.6M720.9 428.9L728.9 439.8L734.4 443.0L740.5 443.6L742.7 450.3L742.4 457.7L745.6 458.0M715.2 428.2L707.5 430.5L707.5 442.3L704.3 442.3L704.3 451.3L706.8 457.7L712.6 455.1L721.9 454.2L726.0 449.7L734.4 443.0M704.3 451.3L704.3 462.8L695.3 462.2L693.1 463.5M726.7 466.7L732.1 463.5L734.4 466.4L730.5 469.2L726.7 466.7M737.9 375.1L738.9 379.5L733.1 380.5M738.9 379.5L737.9 383.1L734.4 386.3M742.7 370.6L749.1 371.2L748.5 379.2L742.7 380.2L741.7 375.1L742.7 370.6M733.7 382.7L735.7 387.9L738.9 398.1L734.7 391.1L733.7 382.7M749.1 402.6L751.7 408.7L752.3 417.7L750.4 410.3L749.1 402.6M332.9 134.8L350.5 134.8L352.1 138.9L339.3 141.2L332.9 138.0L332.9 134.8M313.7 136.4L326.5 135.4L329.7 141.2L320.1 142.8L312.1 139.6L313.7 136.4M321.7 148.2L332.9 148.2L334.5 152.1L326.5 152.1L321.7 148.2M307.3 126.8L326.5 126.1L328.1 130.9L316.9 131.6L307.3 130.0L307.3 126.8M332.9 114.0L352.1 113.3L361.7 118.8L348.9 121.3L336.1 117.8L332.9 114.0M246.5 127.7L265.7 124.2L268.9 127.4L256.1 129.0L246.5 127.7M374.5 170.7L384.1 171.6L384.1 174.2L376.1 172.3L374.5 170.7M377.7 201.4L384.1 202.1L380.9 203.0L377.7 201.4M433.8 212.0L442.7 214.2L437.0 213.6L433.8 212.0M390.5 152.4L400.1 153.0L398.5 156.2L392.1 155.6L390.5 152.4M284.9 182.8L300.9 181.2L294.5 182.8L284.9 183.8M310.5 187.6L315.3 186.0L313.7 190.8L310.5 187.6M413.0 157.8L417.8 159.5L413.0 161.1L409.7 159.1L413.0 157.8M355.3 212.3L358.5 211.0L357.9 213.6L355.3 212.3M316.9 166.2L323.3 165.2L326.5 167.5L320.1 168.1L316.9 166.2M332.9 171.6L339.3 172.3L336.1 174.2L332.9 171.6M680.3 250.1L689.9 249.5L688.6 254.3L680.3 251.4L680.3 250.1M666.5 240.5L671.3 240.5L671.0 246.3L667.5 246.9L666.5 240.5M667.8 235.4L670.7 234.1L670.3 238.9L668.4 238.3L667.8 235.4M715.5 257.8L724.4 259.1L717.1 259.7L715.5 257.8M743.7 259.7L750.7 257.8L747.5 261.0L743.7 259.7M389.6 312.9L396.3 314.2L392.1 314.8L389.6 312.9M425.1 312.6L430.2 313.2L425.8 314.2L425.1 312.6M229.5 209.1L240.1 211.7L244.9 216.8L238.5 215.5L229.5 209.1M214.5 198.9L218.6 198.9L220.9 204.6L216.1 202.1L214.5 198.9M145.6 186.7L153.0 186.7L148.8 189.9L145.6 186.7M108.8 199.5L102.4 201.1M89.6 204.3L80.0 205.3M73.6 205.9L68.8 206.5M1192.5 202.1L1197.3 203.0M1107.7 229.3L1114.1 226.1M1120.5 223.8L1126.9 219.7M1133.3 214.9L1139.7 210.1M1050.7 286.0L1049.1 288.2M1139.7 392.7L1146.1 397.5M1150.9 398.4L1157.3 403.9M1173.3 419.9L1178.1 426.3M1208.5 427.9L1211.7 428.2L1210.1 430.2L1208.5 427.9M811.5 331.5L814.7 331.8M800.3 114.0L816.3 112.4L832.3 113.3L819.5 114.9L800.3 114.0M390.5 286.3L393.7 288.6M389.9 292.4L391.8 294.6M443.4 337.6L445.0 339.5L442.4 339.5L443.4 337.6M817.3 438.8L818.9 439.8M824.0 436.2L825.3 437.2M348.0 373.1L349.6 374.7M766.1 390.4L766.7 392.4M778.9 408.7L779.5 410.3M874.0 370.2L874.6 373.5M134.7 302.7L135.4 303.6M129.3 301.1L129.9 301.7M138.9 304.9L140.5 305.5M625.8 197.9L626.2 198.5M617.8 172.6L618.8 174.5M636.1 178.0L636.4 180.0M618.5 185.1L620.1 186.7M698.8 186.7L700.4 189.2M711.6 184.4L713.9 185.4M687.6 195.0L688.6 195.7M448.2 575.3L453.0 571.4M493.6 566.0L496.2 566.3M1172.3 534.0L1171.7 534.9M1148.6 546.4L1149.0 547.4M307.7 194.3L313.2 196.0L309.9 197.6L307.7 194.3M345.8 183.3L348.6 183.3L346.9 184.9L345.8 183.3M256.4 179.8L259.3 181.4L257.6 183.0L256.4 179.8M325.8 159.7L328.9 160.7L327.0 162.3L325.8 159.7M362.2 153.5L367.3 153.9L364.2 155.5L362.2 153.5M424.7 199.7L431.1 200.5L427.3 202.1L424.7 199.7M275.5 196.0L279.5 194.8L277.1 196.4L275.5 196.0M282.1 172.2L287.5 172.7L284.2 174.3L282.1 172.2M347.9 198.8L350.7 200.0L349.0 201.6L347.9 198.8M371.7 180.1L375.6 179.8L373.2 181.4L371.7 180.1M330.9 186.7L337.0 185.9L333.4 187.5L330.9 186.7M293.4 172.6L298.4 171.2L295.4 172.8L293.4 172.6M380.5 187.3L387.4 188.8L383.2 190.4L380.5 187.3M324.6 163.2L327.9 163.3L325.9 164.9L324.6 163.2M256.7 167.8L262.7 167.5L259.1 169.1L256.7 167.8M406.6 186.0L412.3 185.6L408.9 187.2L406.6 186.0M353.6 178.7L360.0 177.0L356.2 178.6L353.6 178.7M334.7 168.0L337.5 167.2L335.8 168.8L334.7 168.0M365.7 151.2L371.9 152.0L368.2 153.6L365.7 151.2M318.8 167.8L321.5 167.9L319.9 169.5L318.8 167.8M279.8 196.1L282.6 195.0L280.9 196.6L279.8 196.1M272.9 189.4L277.2 187.9L274.6 189.5L272.9 189.4M264.1 179.0L269.1 177.6L266.1 179.2L264.1 179.0M396.6 157.8L400.4 158.1L398.1 159.7L396.6 157.8M314.0 156.7L320.9 158.1L316.7 159.7L314.0 156.7M281.3 190.2L284.9 190.2L282.7 191.8L281.3 190.2M355.3 188.6L357.9 188.9L356.3 190.5L355.3 188.6M315.9 173.0L322.7 172.3L318.6 173.9L315.9 173.0M342.1 170.4L347.7 172.1L344.3 173.7L342.1 170.4M410.9 162.1L417.4 160.9L413.5 162.5L410.9 162.1M320.0 181.6L323.0 181.1L321.2 182.7L320.0 181.6M260.8 198.6L264.3 199.9L262.2 201.5L260.8 198.6M310.6 199.4L313.2 200.7L311.7 202.3L310.6 199.4M267.9 183.4L270.5 182.0L268.9 183.6L267.9 183.4M989.6 173.9L993.1 174.4M925.6 174.9L931.4 173.3M951.7 161.0L954.6 162.3M920.1 169.5L925.8 170.5M838.2 143.1L842.8 144.2M971.4 178.6L976.0 177.1M1053.4 152.9L1057.0 153.3M875.1 150.0L879.7 149.1M916.8 171.1L922.4 169.5M1050.7 148.6L1056.4 147.9M890.4 159.7L894.3 161.2M839.5 168.9L843.0 168.3M1077.3 162.4L1083.5 160.9M1076.9 165.6L1080.3 166.5"/>
</g>
<path d="M352.1 83.5V660.2M640.2 83.5V660.2M928.4 83.5V660.2M64.0 179.6H1216.5M64.0 275.7H1216.5M64.0 371.9H1216.5M64.0 468.0H1216.5M64.0 564.1H1216.5" stroke="#000" stroke-width="0.9" fill="none"/>
<g stroke="none">
<rect x="64.0" y="74.2" width="288.1" height="9.3" fill="#000"/>
<rect x="64.0" y="660.2" width="288.1" height="9.2" fill="#000"/>
<rect x="640.2" y="74.2" width="288.1" height="9.3" fill="#000"/>
<rect x="640.2" y="660.2" width="288.1" height="9.2" fill="#000"/>
<rect x="54.6" y="83.5" width="9.4" height="96.1" fill="#000"/>
<rect x="1216.5" y="83.5" width="9.4" height="96.1" fill="#000"/>
<rect x="54.6" y="275.7" width="9.4" height="96.1" fill="#000"/>
<rect x="1216.5" y="275.7" width="9.4" height="96.1" fill="#000"/>
<rect x="54.6" y="468.0" width="9.4" height="96.1" fill="#000"/>
<rect x="1216.5" y="468.0" width="9.4" height="96.1" fill="#000"/>
</g>
<g fill="none" stroke="#000" stroke-width="1">
<rect x="54.6" y="74.2" width="1171.3" height="595.2"/>
<rect x="64.0" y="83.5" width="1152.5" height="576.7"/>
<path d="M64.0 74.2V83.5M1216.5 74.2V83.5M64.0 660.2V669.4M1216.5 660.2V669.4"/>
<path d="M54.6 83.5H64.0M1216.5 83.5H1225.9M54.6 660.2H64.0M1216.5 660.2H1225.9"/>
</g>
<text x="64.0" y="66.2" font-size="24" text-anchor="middle">−180<tspan font-size="16.5" dy="-7.2" dx="0.6">°</tspan></text>
<text x="64.0" y="696.9" font-size="24" text-anchor="middle">−180<tspan font-size="16.5" dy="-7.2" dx="0.6">°</tspan></text>
<text x="352.1" y="66.2" font-size="24" text-anchor="middle">−90<tspan font-size="16.5" dy="-7.2" dx="0.6">°</tspan></text>
<text x="352.1" y="696.9" font-size="24" text-anchor="middle">−90<tspan font-size="16.5" dy="-7.2" dx="0.6">°</tspan></text>
<text x="640.2" y="66.2" font-size="24" text-anchor="middle">0<tspan font-size="16.5" dy="-7.2" dx="0.6">°</tspan></text>
<text x="640.2" y="696.9" font-size="24" text-anchor="middle">0<tspan font-size="16.5" dy="-7.2" dx="0.6">°</tspan></text>
<text x="928.4" y="66.2" font-size="24" text-anchor="middle">90<tspan font-size="16.5" dy="-7.2" dx="0.6">°</tspan></text>
<text x="928.4" y="696.9" font-size="24" text-anchor="middle">90<tspan font-size="16.5" dy="-7.2" dx="0.6">°</tspan></text>
<text x="1216.5" y="66.2" font-size="24" text-anchor="middle">180<tspan font-size="16.5" dy="-7.2" dx="0.6">°</tspan></text>
<text x="1216.5" y="696.9" font-size="24" text-anchor="middle">180<tspan font-size="16.5" dy="-7.2" dx="0.6">°</tspan></text>
<text x="45.2" y="92.9" font-size="24" text-anchor="end">90<tspan font-size="16.5" dy="-7.2" dx="0.6">°</tspan></text>
<text x="1235.5" y="92.9" font-size="24" text-anchor="start">90<tspan font-size="16.5" dy="-7.2" dx="0.6">°</tspan></text>
<text x="45.2" y="189.0" font-size="24" text-anchor="end">60<tspan font-size="16.5" dy="-7.2" dx="0.6">°</tspan></text>
<text x="1235.5" y="189.0" font-size="24" text-anchor="start">60<tspan font-size="16.5" dy="-7.2" dx="0.6">°</tspan></text>
<text x="45.2" y="285.1" font-size="24" text-anchor="end">30<tspan font-size="16.5" dy="-7.2" dx="0.6">°</tspan></text>
<text x="1235.5" y="285.1" font-size="24" text-anchor="start">30<tspan font-size="16.5" dy="-7.2" dx="0.6">°</tspan></text>
<text x="45.2" y="381.2" font-size="24" text-anchor="end">0<tspan font-size="16.5" dy="-7.2" dx="0.6">°</tspan></text>
<text x="1235.5" y="381.2" font-size="24" text-anchor="start">0<tspan font-size="16.5" dy="-7.2" dx="0.6">°</tspan></text>
<text x="45.2" y="477.4" font-size="24" text-anchor="end">−30<tspan font-size="16.5" dy="-7.2" dx="0.6">°</tspan></text>
<text x="1235.5" y="477.4" font-size="24" text-anchor="start">−30<tspan font-size="16.5" dy="-7.2" dx="0.6">°</tspan></text>
<text x="45.2" y="573.5" font-size="24" text-anchor="end">−60<tspan font-size="16.5" dy="-7.2" dx="0.6">°</tspan></text>
<text x="1235.5" y="573.5" font-size="24" text-anchor="start">−60<tspan font-size="16.5" dy="-7.2" dx="0.6">°</tspan></text>
<text x="45.2" y="669.6" font-size="24" text-anchor="end">−90<tspan font-size="16.5" dy="-7.2" dx="0.6">°</tspan></text>
<text x="1235.5" y="669.6" font-size="24" text-anchor="start">−90<tspan font-size="16.5" dy="-7.2" dx="0.6">°</tspan></text>
<text x="345" y="22" font-size="31" textLength="136" lengthAdjust="spacingAndGlyphs">TEC Rate</text>
<text y="21.5" font-size="31"><tspan x="852.5" textLength="177.5" lengthAdjust="spacingAndGlyphs">2022−08−10</tspan> <tspan x="1052.5" textLength="120.3" lengthAdjust="spacingAndGlyphs">01:00:00</tspan> <tspan x="1186.5" textLength="37.5" lengthAdjust="spacingAndGlyphs">UT</tspan></text>
<text x="1151.8" y="648.8" font-size="24.4" textLength="50.5" lengthAdjust="spacingAndGlyphs">DLR</text>
<g filter="url(#ts)" stroke="#f4fff0" stroke-width="0.75" stroke-linejoin="round">
<text x="581.8" y="554.3" font-size="21.4" textLength="157" lengthAdjust="spacingAndGlyphs" style="fill:#f4fff0">Facebook.com/</text>
<text x="502" y="584.1" font-size="21.4" textLength="319" lengthAdjust="spacingAndGlyphs" style="fill:#f4fff0">tec-rate-20-104130152313768</text>
</g>
<rect x="59.8" y="798.8" width="1162.7" height="35.5" fill="url(#cbg)" stroke="#000" stroke-width="1.6"/>
<path d="M59.8 834.3V843.8" stroke="#000" stroke-width="1"/>
<text x="59.8" y="870" font-size="22.7" text-anchor="middle">−1.0</text>
<path d="M350.5 834.3V843.8" stroke="#000" stroke-width="1"/>
<text x="350.5" y="870" font-size="22.7" text-anchor="middle">−0.5</text>
<path d="M641.1 834.3V843.8" stroke="#000" stroke-width="1"/>
<text x="641.1" y="870" font-size="22.7" text-anchor="middle">0.0</text>
<path d="M931.8 834.3V843.8" stroke="#000" stroke-width="1"/>
<text x="931.8" y="870" font-size="22.7" text-anchor="middle">0.5</text>
<path d="M1222.5 834.3V843.8" stroke="#000" stroke-width="1"/>
<text x="1222.5" y="870" font-size="22.7" text-anchor="middle">1.0</text>
<text x="641.8" y="919.2" font-size="38.5" text-anchor="middle">TEC Rate / TECU/minute</text>
</svg></body></html>
